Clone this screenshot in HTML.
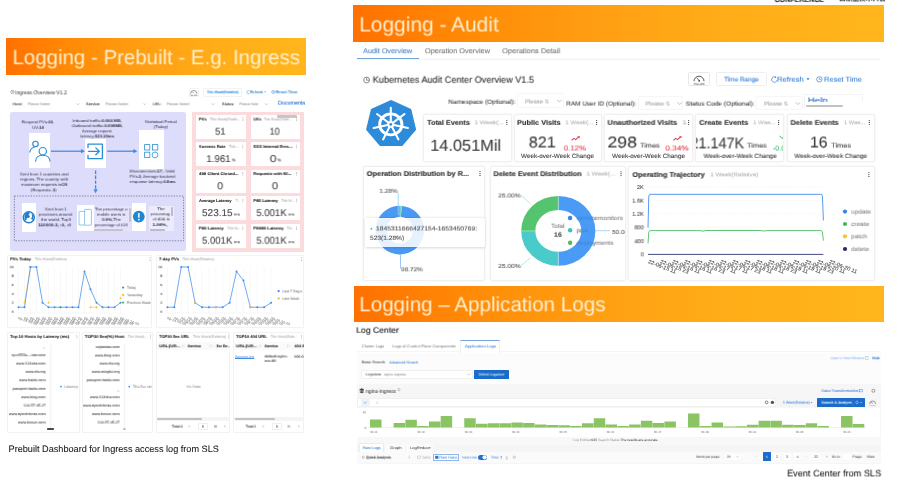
<!DOCTYPE html>
<html lang="en">
<head>
<meta charset="utf-8">
<title>Logging dashboards</title>
<style>
html,body{margin:0;padding:0;background:#fff}
#root{text-rendering:geometricPrecision;position:relative;width:904px;height:482px;overflow:hidden;background:#fff;font-family:"Liberation Sans","Noto Sans CJK SC",sans-serif;color:#333}
.t{position:absolute;white-space:nowrap;line-height:1.2;transform-origin:0 0;-webkit-text-stroke:0.1px currentColor}
.b{position:absolute;box-sizing:border-box}
.bn{font-weight:400;-webkit-text-stroke:0 transparent}
.lg .t{-webkit-text-stroke:0.03px currentColor}
svg{position:absolute;left:0;top:0;overflow:visible}
</style>
</head>
<body>
<div id="root">
<!-- s_base -->
<div class="t" style="left:774px;top:-5px;font-size:7.3px;color:#222;font-weight:700;transform:translate(0.51px,0.9px) perspective(999px) translateZ(.01px) scaleX(0.9699)">CONFERENCE</div>
<div class="t" style="left:839px;top:-5px;font-size:6.7px;color:#222;font-weight:700;transform:translate(0px,0.6px) perspective(999px) translateZ(.01px)">云原生技术大会</div>
<div class="b" style="left:6.2px;top:38.4px;width:300.2px;height:37.1px;background:linear-gradient(90deg,#ff7000 0%,#ff8906 20%,#ff9e12 45%,#ffad18 70%,#ffb61c 100%)"></div>
<div class="t bn" style="left:12px;top:46px;font-size:20.6px;color:#ffefcf;transform:translate(0.52px,0.21px) perspective(999px) translateZ(.01px) scaleX(0.9924)">Logging - Prebuilt - E.g. Ingress</div>
<div class="b" style="left:353.4px;top:5px;width:530.2px;height:36.8px;background:linear-gradient(90deg,#ff7000 0%,#ff8906 20%,#ff9e12 45%,#ffad18 70%,#ffb61c 100%)"></div>
<div class="t bn" style="left:359px;top:13px;font-size:20.8px;color:#ffefcf;transform:translate(0.29px,0.48px) perspective(999px) translateZ(.01px) scaleX(1.005)">Logging - Audit</div>
<div class="b" style="left:353.5px;top:285.5px;width:530.4px;height:36.6px;background:linear-gradient(90deg,#ff7000 0%,#ff8906 20%,#ff9e12 45%,#ffad18 70%,#ffb61c 100%)"></div>
<div class="t bn" style="left:359px;top:293px;font-size:20.6px;color:#ffefcf;transform:translate(0.31px,0.31px) perspective(999px) translateZ(.01px)">Logging – Application Logs</div>
<div class="t" style="left:8px;top:444px;font-size:9.3px;color:#111;transform:translate(0.55px,0px) scaleX(0.983);-webkit-text-stroke:0.05px #111">Prebuilt Dashboard for Ingress access log from SLS</div>
<div class="t" style="left:787px;top:468px;font-size:9.3px;color:#111;transform:translate(0.15px,0.4px) perspective(999px) translateZ(.01px) scaleX(0.9837);-webkit-text-stroke:0.05px #111">Event Center from SLS</div>
<!-- s_left -->
<div class="t" style="left:15px;top:90px;font-size:5.6px;transform:translate(0.33px,0.36px) perspective(999px) translateZ(.01px) scaleX(0.9183);-webkit-text-stroke:0 transparent">Ingress Overview V1.2</div>
<div class="b" style="left:188.6px;top:87.5px;width:10.1px;height:9.3px;background:#fff;border:0.5px solid #f2f2f2;border-radius:1px"></div>
<div class="t" style="left:190px;top:95px;font-size:1.6px;color:#777;transform:translate(0.13px,0.86px) perspective(999px) translateZ(.01px)">Time Shift</div>
<div class="b" style="left:203.2px;top:87.6px;width:38.4px;height:9px;background:#fff;border:0.5px solid #f0f2f5;border-radius:1px"></div>
<div class="t" style="left:206px;top:90px;font-size:3.6px;color:#2b7fd6;transform:translate(0.52px,0.26px) perspective(999px) translateZ(.01px) scaleX(0.9925)">This Week(Relative)</div>
<div class="t" style="left:249px;top:90px;font-size:3.8px;color:#2b7fd6;transform:translate(1px,0.33px) perspective(999px) translateZ(.01px) scaleX(0.9649)">Refresh</div>
<div class="t" style="left:275px;top:90px;font-size:3.8px;color:#2b7fd6;transform:translate(0.44px,0.33px) perspective(999px) translateZ(.01px) scaleX(1.1635)">Reset Time</div>
<div class="t" style="left:12px;top:102px;font-size:3.7px;color:#444;transform:translate(0.66px,0.3px) perspective(999px) translateZ(.01px) scaleX(1.1258)">Host:</div>
<div class="t" style="left:27px;top:102px;font-size:3.5px;color:#aaa;transform:translate(0.7px,0.22px) perspective(999px) translateZ(.01px) scaleX(1.0432)">Please Select</div>
<div class="t" style="left:86px;top:102px;font-size:3.7px;color:#444;transform:translate(0.12px,0.3px) perspective(999px) translateZ(.01px) scaleX(1.0653)">Service:</div>
<div class="t" style="left:105px;top:102px;font-size:3.5px;color:#aaa;transform:translate(0.5px,0.22px) perspective(999px) translateZ(.01px) scaleX(1.0527)">Please Select</div>
<div class="t" style="left:152px;top:102px;font-size:3.7px;color:#444;transform:translate(0.71px,0.3px) perspective(999px) translateZ(.01px) scaleX(1.0248)">URL:</div>
<div class="t" style="left:166px;top:102px;font-size:3.5px;color:#aaa;transform:translate(0.7px,0.22px) perspective(999px) translateZ(.01px) scaleX(1.0574)">Please Select</div>
<div class="t" style="left:222px;top:102px;font-size:3.7px;color:#444;transform:translate(0.02px,0.3px) perspective(999px) translateZ(.01px) scaleX(1.0716)">Status:</div>
<div class="t" style="left:239px;top:102px;font-size:3.5px;color:#aaa;transform:translate(0.21px,0.22px) perspective(999px) translateZ(.01px) scaleX(1.0144)">Please Sele</div>
<div class="t" style="left:277px;top:100px;font-size:5.5px;color:#2a74d2;transform:translate(0.86px,0.62px) perspective(999px) translateZ(.01px) scaleX(0.972)">Documenta</div>
<div class="b" style="left:10px;top:112.3px;width:176px;height:138.5px;background:#dedcfb;border-radius:2px"></div>
<div class="b" style="left:29px;top:133.3px;width:21.2px;height:34.9px;background:#fff"></div>
<div class="b" style="left:84.8px;top:138.8px;width:21.6px;height:29.6px;background:#fff"></div>
<div class="b" style="left:138.5px;top:130.2px;width:25.5px;height:38.8px;background:#fff"></div>
<div class="t" style="left:21px;top:120px;font-size:3.9px;color:#3a3a4c;transform:translate(0.85px,0.27px) perspective(999px) translateZ(.01px) scaleX(1.1015);-webkit-text-stroke:0.04px currentColor">Request PVs:<b>40</b>,</div>
<div class="t" style="left:31px;top:125px;font-size:3.9px;color:#3a3a4c;transform:translate(0.96px,0.77px) perspective(999px) translateZ(.01px) scaleX(1.1335);-webkit-text-stroke:0.04px currentColor">UV:<b>10</b></div>
<div class="t" style="left:72px;top:118px;font-size:3.9px;color:#3a3a4c;transform:translate(0.7px,0.96px) perspective(999px) translateZ(.01px) scaleX(1.123);-webkit-text-stroke:0.04px currentColor">Inbound traffic:<b>0.004 MB</b>,</div>
<div class="t" style="left:71px;top:124px;font-size:3.9px;color:#3a3a4c;transform:translate(0.69px,0.06px) perspective(999px) translateZ(.01px) scaleX(1.1255);-webkit-text-stroke:0.04px currentColor">Outbound traffic:<b>0.008MB</b>,</div>
<div class="t" style="left:82px;top:129px;font-size:3.9px;color:#3a3a4c;transform:translate(0.09px,0.37px) perspective(999px) translateZ(.01px) scaleX(1.0417);-webkit-text-stroke:0.04px currentColor">Average request</div>
<div class="t" style="left:80px;top:134px;font-size:3.9px;color:#3a3a4c;transform:translate(0.31px,0.47px) perspective(999px) translateZ(.01px) scaleX(1.0921);-webkit-text-stroke:0.04px currentColor">latency:<b>523.15ms</b></div>
<div class="t" style="left:144px;top:120px;font-size:3.9px;color:#3a3a4c;transform:translate(0.91px,0.06px) perspective(999px) translateZ(.01px) scaleX(1.1007);-webkit-text-stroke:0.04px currentColor">Statistical Period</div>
<div class="t" style="left:153px;top:125px;font-size:3.9px;color:#3a3a4c;transform:translate(0.84px,0.06px) perspective(999px) translateZ(.01px) scaleX(1.0941);-webkit-text-stroke:0.04px currentColor">(Today)</div>
<div class="t" style="left:20px;top:172px;font-size:3.9px;color:#3a3a4c;transform:translate(0.01px,0.47px) perspective(999px) translateZ(.01px) scaleX(1.0898);-webkit-text-stroke:0.04px currentColor">Sent from 1 countries and</div>
<div class="t" style="left:20px;top:177px;font-size:3.9px;color:#3a3a4c;transform:translate(0.21px,0.56px) perspective(999px) translateZ(.01px) scaleX(1.1049);-webkit-text-stroke:0.04px currentColor">regions. The country with</div>
<div class="t" style="left:21px;top:182px;font-size:3.9px;color:#3a3a4c;transform:translate(0.22px,0.77px) perspective(999px) translateZ(.01px) scaleX(1.0893);-webkit-text-stroke:0.04px currentColor">maximum requests is<b>CN</b></div>
<div class="t" style="left:30px;top:188px;font-size:3.9px;color:#3a3a4c;transform:translate(0.83px,0.37px) perspective(999px) translateZ(.01px) scaleX(1.0995);-webkit-text-stroke:0.04px currentColor">(Requests:  <b>2</b>)</div>
<div class="t" style="left:129px;top:169px;font-size:3.9px;color:#3a3a4c;transform:translate(0.65px,0.47px) perspective(999px) translateZ(.01px) scaleX(1.1061);-webkit-text-stroke:0.04px currentColor">Microservices:<b>17</b>,. Valid</div>
<div class="t" style="left:129px;top:174px;font-size:3.9px;color:#3a3a4c;transform:translate(0.66px,0.77px) perspective(999px) translateZ(.01px) scaleX(1.072);-webkit-text-stroke:0.04px currentColor">PVs:<b>2</b>, Average backend</div>
<div class="t" style="left:129px;top:179px;font-size:3.9px;color:#3a3a4c;transform:translate(0.72px,0.97px) perspective(999px) translateZ(.01px) scaleX(1.0945);-webkit-text-stroke:0.04px currentColor">response latency:<b>0.8ms</b></div>
<div class="b" style="left:21.8px;top:203px;width:14.2px;height:29.2px;background:#fff"></div>
<div class="t" style="left:44px;top:207px;font-size:3.9px;color:#3a3a4c;transform:translate(0.91px,0.47px) perspective(999px) translateZ(.01px) scaleX(1.0863);-webkit-text-stroke:0.04px currentColor">Sent from 1</div>
<div class="t" style="left:38px;top:212px;font-size:3.9px;color:#3a3a4c;transform:translate(0.92px,0.67px) perspective(999px) translateZ(.01px) scaleX(1.1116);-webkit-text-stroke:0.04px currentColor">provinces around</div>
<div class="t" style="left:41px;top:217px;font-size:3.9px;color:#3a3a4c;transform:translate(0.13px,0.87px) perspective(999px) translateZ(.01px) scaleX(1.132);-webkit-text-stroke:0.04px currentColor">the world. Top3</div>
<div class="t" style="left:38px;top:223px;font-size:3.9px;color:#3a3a4c;transform:translate(0.31px,0.27px) perspective(999px) translateZ(.01px) scaleX(1.1878);-webkit-text-stroke:0.04px currentColor"><b>110000:2,  :0,  :0</b></div>
<div class="b" style="left:76.5px;top:205px;width:17.1px;height:25.6px;background:#fff"></div>
<div class="b" style="left:94px;top:205.6px;width:37.4px;height:25.4px;background:#e4e2fc"></div>
<div class="b" style="left:129.4px;top:208.2px;width:1.4px;height:13.8px;background:#c4c3cc;border-radius:0.7px"></div>
<div class="b" style="left:94.2px;top:229.4px;width:28.8px;height:1.4px;background:#c4c3cc;border-radius:0.7px"></div>
<div class="b" style="left:131.9px;top:203px;width:14.1px;height:27.6px;background:#fff"></div>
<div class="b" style="left:149.2px;top:205.6px;width:24.4px;height:25.4px;background:#ecebfd"></div>
<div class="b" style="left:171.2px;top:207px;width:1.4px;height:8.6px;background:#bdbcc6;border-radius:0.7px"></div>
<div class="b" style="left:150px;top:229.4px;width:15.4px;height:1.4px;background:#bdbcc6;border-radius:0.7px"></div>
<div class="b" style="left:191.5px;top:112.2px;width:112.3px;height:139.6px;background:#fbdbdd"></div>
<div class="b" style="left:196.3px;top:115px;width:49.8px;height:24px;background:#fff"></div>
<div class="t" style="left:198px;top:117px;font-size:3.9px;color:#262626;font-weight:700;transform:translate(0.83px,0.56px) perspective(999px) translateZ(.01px) scaleX(1.0358)">PVs</div>
<div class="t" style="left:209px;top:117px;font-size:3.4px;color:#b0b0b0;transform:translate(0.82px,0.39px) perspective(999px) translateZ(.01px) scaleX(1.0577)">This Week(Relati...</div>
<div class="t" style="left:215px;top:126px;font-size:9.9px;color:#484848;transform:translate(0.02px,0.66px) perspective(999px) translateZ(.01px) scaleX(0.9672)">51</div>
<div class="b" style="left:250.9px;top:115px;width:49px;height:24px;background:#fff"></div>
<div class="t" style="left:253px;top:117px;font-size:3.9px;color:#262626;font-weight:700;transform:translate(0.46px,0.56px) perspective(999px) translateZ(.01px)">UVs</div>
<div class="t" style="left:263px;top:117px;font-size:3.4px;color:#b0b0b0;transform:translate(0.83px,0.39px) perspective(999px) translateZ(.01px) scaleX(0.9692)">This Week(Relati...</div>
<div class="t" style="left:269px;top:126px;font-size:9.9px;color:#484848;transform:translate(0.5px,0.66px) perspective(999px) translateZ(.01px) scaleX(0.9219)">10</div>
<div class="b" style="left:196.3px;top:142.3px;width:49.8px;height:24px;background:#fff"></div>
<div class="t" style="left:198px;top:144px;font-size:3.9px;color:#262626;font-weight:700;transform:translate(0.98px,0.87px) perspective(999px) translateZ(.01px) scaleX(1.043)">Success Rate</div>
<div class="t" style="left:228px;top:144px;font-size:3.4px;color:#b0b0b0;transform:translate(0.92px,0.69px) perspective(999px) translateZ(.01px) scaleX(1.0189)">This ...</div>
<div class="t" style="left:206px;top:153px;font-size:9.9px;color:#484848;transform:translate(0.36px,0.97px) perspective(999px) translateZ(.01px) scaleX(0.9814)">1.961</div>
<div class="t" style="left:231px;top:158px;font-size:3.8px;color:#505050;transform:translate(0.86px,0.43px) perspective(999px) translateZ(.01px) scaleX(1.0618)">%</div>
<div class="b" style="left:250.9px;top:142.3px;width:49px;height:24px;background:#fff"></div>
<div class="t" style="left:253px;top:144px;font-size:3.9px;color:#262626;font-weight:700;transform:translate(0.57px,0.87px) perspective(999px) translateZ(.01px) scaleX(1.1128)">5XX Internal Erro...</div>
<div class="t" style="left:269px;top:153px;font-size:9.9px;color:#484848;transform:translate(0.73px,0.97px) perspective(999px) translateZ(.01px) scaleX(1.2255)">0</div>
<div class="t" style="left:277px;top:158px;font-size:3.8px;color:#505050;transform:translate(0.45px,0.43px) perspective(999px) translateZ(.01px) scaleX(1.094)">%</div>
<div class="b" style="left:196.3px;top:169.5px;width:49.8px;height:23.7px;background:#fff"></div>
<div class="t" style="left:199px;top:172px;font-size:3.9px;color:#262626;font-weight:700;transform:translate(0.04px,0.06px) perspective(999px) translateZ(.01px) scaleX(1.1006)">499 Client Closed...</div>
<div class="t" style="left:217px;top:181px;font-size:9.9px;color:#484848;transform:translate(0.28px,0.16px) perspective(999px) translateZ(.01px) scaleX(1.0987)">0</div>
<div class="b" style="left:250.9px;top:169.5px;width:49px;height:23.7px;background:#fff"></div>
<div class="t" style="left:253px;top:172px;font-size:3.9px;color:#262626;font-weight:700;transform:translate(0.42px,0.06px) perspective(999px) translateZ(.01px) scaleX(1.0873)">Requests with 50...</div>
<div class="t" style="left:271px;top:181px;font-size:9.9px;color:#484848;transform:translate(0.76px,0.16px) perspective(999px) translateZ(.01px) scaleX(1.141)">0</div>
<div class="b" style="left:196.3px;top:196.4px;width:49.8px;height:24.1px;background:#fff"></div>
<div class="t" style="left:198px;top:198px;font-size:3.9px;color:#262626;font-weight:700;transform:translate(1px,0.97px) perspective(999px) translateZ(.01px) scaleX(1.0467)">Average Latency</div>
<div class="t" style="left:235px;top:198px;font-size:3.4px;color:#b0b0b0;transform:translate(0.52px,0.79px) perspective(999px) translateZ(.01px) scaleX(1.061)">T...</div>
<div class="t" style="left:201px;top:208px;font-size:9.9px;color:#484848;transform:translate(1px,0.06px) perspective(999px) translateZ(.01px) scaleX(1.0146)">523.15</div>
<div class="t" style="left:234px;top:212px;font-size:3.8px;color:#505050;transform:translate(0.02px,0.53px) perspective(999px) translateZ(.01px) scaleX(1.1121)">ms</div>
<div class="b" style="left:250.9px;top:196.4px;width:49px;height:24.1px;background:#fff"></div>
<div class="t" style="left:253px;top:198px;font-size:3.9px;color:#262626;font-weight:700;transform:translate(0.42px,0.97px) perspective(999px) translateZ(.01px) scaleX(1.0809)">P95 Latency</div>
<div class="t" style="left:281px;top:198px;font-size:3.4px;color:#b0b0b0;transform:translate(0.23px,0.79px) perspective(999px) translateZ(.01px) scaleX(0.9738)">This W...</div>
<div class="t" style="left:256px;top:208px;font-size:9.9px;color:#484848;transform:translate(0.32px,0.06px) perspective(999px) translateZ(.01px) scaleX(0.9686)">5.001K</div>
<div class="t" style="left:288px;top:212px;font-size:3.8px;color:#505050;transform:translate(0.52px,0.53px) perspective(999px) translateZ(.01px) scaleX(1.1121)">ms</div>
<div class="b" style="left:196.3px;top:224px;width:49.8px;height:24.1px;background:#fff"></div>
<div class="t" style="left:198px;top:226px;font-size:3.9px;color:#262626;font-weight:700;transform:translate(0.81px,0.56px) perspective(999px) translateZ(.01px) scaleX(1.0943)">P99 Latency</div>
<div class="t" style="left:227px;top:226px;font-size:3.4px;color:#b0b0b0;transform:translate(0.23px,0.39px) perspective(999px) translateZ(.01px) scaleX(0.9738)">This W...</div>
<div class="t" style="left:202px;top:235px;font-size:9.9px;color:#484848;transform:translate(0.02px,0.66px) perspective(999px) translateZ(.01px) scaleX(0.9686)">5.001K</div>
<div class="t" style="left:234px;top:240px;font-size:3.8px;color:#505050;transform:translate(0.02px,0.13px) perspective(999px) translateZ(.01px) scaleX(1.1121)">ms</div>
<div class="b" style="left:250.9px;top:224px;width:49px;height:24.1px;background:#fff"></div>
<div class="t" style="left:253px;top:226px;font-size:3.9px;color:#262626;font-weight:700;transform:translate(0.41px,0.56px) perspective(999px) translateZ(.01px) scaleX(1.1223)">P9999 Latency</div>
<div class="t" style="left:286px;top:226px;font-size:3.4px;color:#b0b0b0;transform:translate(0.73px,0.39px) perspective(999px) translateZ(.01px) scaleX(0.9763)">Thi...</div>
<div class="t" style="left:256px;top:235px;font-size:9.9px;color:#484848;transform:translate(0.32px,0.66px) perspective(999px) translateZ(.01px) scaleX(0.9686)">5.001K</div>
<div class="t" style="left:288px;top:240px;font-size:3.8px;color:#505050;transform:translate(0.52px,0.13px) perspective(999px) translateZ(.01px) scaleX(1.1121)">ms</div>
<div class="b" style="left:277.2px;top:115.2px;width:19.8px;height:2.7px;background:#c6c6c6;border-radius:1.3px"></div>
<div class="b" style="left:7.4px;top:255px;width:145px;height:72.6px;background:#fff;border:0.5px solid #f2f2f2;border-radius:1px"></div>
<div class="t" style="left:10px;top:257px;font-size:3.9px;color:#262626;font-weight:700;transform:translate(0.22px,0.37px) perspective(999px) translateZ(.01px) scaleX(1.0584)">PVs Today</div>
<div class="t" style="left:34px;top:257px;font-size:3.4px;color:#b4b4b4;transform:translate(0.72px,0.19px) perspective(999px) translateZ(.01px) scaleX(1.0575)">This Week(Relative)</div>
<div class="t" style="left:11px;top:310px;font-size:3.3px;color:#555;transform:translate(0.78px,0.85px) perspective(999px) translateZ(.01px) scaleX(1.1)">0</div>
<div class="t" style="left:11px;top:301px;font-size:3.3px;color:#555;transform:translate(0.78px,0.91px) perspective(999px) translateZ(.01px) scaleX(1.1)">2</div>
<div class="t" style="left:11px;top:292px;font-size:3.3px;color:#555;transform:translate(0.78px,0.97px) perspective(999px) translateZ(.01px) scaleX(1.1)">4</div>
<div class="t" style="left:11px;top:284px;font-size:3.3px;color:#555;transform:translate(0.78px,0.03px) perspective(999px) translateZ(.01px) scaleX(1.1)">6</div>
<div class="t" style="left:11px;top:275px;font-size:3.3px;color:#555;transform:translate(0.78px,0.09px) perspective(999px) translateZ(.01px) scaleX(1.1)">8</div>
<div class="t" style="left:9px;top:266px;font-size:3.3px;color:#555;transform:translate(0.76px,0.15px) perspective(999px) translateZ(.01px) scaleX(1.1)">10</div>
<div class="t" style="left:127px;top:285px;font-size:3.4px;color:#8a8a8a;transform:translate(0.02px,0.79px) perspective(999px) translateZ(.01px)">Today</div>
<div class="t" style="left:127px;top:293px;font-size:3.4px;color:#8a8a8a;transform:translate(0.02px,0.19px) perspective(999px) translateZ(.01px) scaleX(1.0526)">Yesterday</div>
<div class="t" style="left:126px;top:300px;font-size:3.4px;color:#8a8a8a;transform:translate(0.81px,0.79px) perspective(999px) translateZ(.01px) scaleX(1.0387)">Previous Week</div>
<div class="t" style="left:17.9px;top:315.7px;font-size:3.4px;line-height:4px;color:#6e6e6e;-webkit-text-stroke:0 transparent;transform-origin:0 50%;transform:rotate(19deg) scaleX(1.12)">06-14 00:00</div>
<div class="t" style="left:23.9px;top:315.7px;font-size:3.4px;line-height:4px;color:#6e6e6e;-webkit-text-stroke:0 transparent;transform-origin:0 50%;transform:rotate(19deg) scaleX(1.12)">06-14 08:00</div>
<div class="t" style="left:29.9px;top:315.7px;font-size:3.4px;line-height:4px;color:#6e6e6e;-webkit-text-stroke:0 transparent;transform-origin:0 50%;transform:rotate(19deg) scaleX(1.12)">06-14 16:00</div>
<div class="t" style="left:35.9px;top:315.7px;font-size:3.4px;line-height:4px;color:#6e6e6e;-webkit-text-stroke:0 transparent;transform-origin:0 50%;transform:rotate(19deg) scaleX(1.12)">06-15 00:00</div>
<div class="t" style="left:41.9px;top:315.7px;font-size:3.4px;line-height:4px;color:#6e6e6e;-webkit-text-stroke:0 transparent;transform-origin:0 50%;transform:rotate(19deg) scaleX(1.12)">06-15 08:00</div>
<div class="t" style="left:47.9px;top:315.7px;font-size:3.4px;line-height:4px;color:#6e6e6e;-webkit-text-stroke:0 transparent;transform-origin:0 50%;transform:rotate(19deg) scaleX(1.12)">06-15 16:00</div>
<div class="t" style="left:53.9px;top:315.7px;font-size:3.4px;line-height:4px;color:#6e6e6e;-webkit-text-stroke:0 transparent;transform-origin:0 50%;transform:rotate(19deg) scaleX(1.12)">06-16 00:00</div>
<div class="t" style="left:59.9px;top:315.7px;font-size:3.4px;line-height:4px;color:#6e6e6e;-webkit-text-stroke:0 transparent;transform-origin:0 50%;transform:rotate(19deg) scaleX(1.12)">06-16 08:00</div>
<div class="t" style="left:65.9px;top:315.7px;font-size:3.4px;line-height:4px;color:#6e6e6e;-webkit-text-stroke:0 transparent;transform-origin:0 50%;transform:rotate(19deg) scaleX(1.12)">06-16 16:00</div>
<div class="t" style="left:71.9px;top:315.7px;font-size:3.4px;line-height:4px;color:#6e6e6e;-webkit-text-stroke:0 transparent;transform-origin:0 50%;transform:rotate(19deg) scaleX(1.12)">06-17 00:00</div>
<div class="t" style="left:77.9px;top:315.7px;font-size:3.4px;line-height:4px;color:#6e6e6e;-webkit-text-stroke:0 transparent;transform-origin:0 50%;transform:rotate(19deg) scaleX(1.12)">06-17 08:00</div>
<div class="t" style="left:83.9px;top:315.7px;font-size:3.4px;line-height:4px;color:#6e6e6e;-webkit-text-stroke:0 transparent;transform-origin:0 50%;transform:rotate(19deg) scaleX(1.12)">06-17 16:00</div>
<div class="t" style="left:89.9px;top:315.7px;font-size:3.4px;line-height:4px;color:#6e6e6e;-webkit-text-stroke:0 transparent;transform-origin:0 50%;transform:rotate(19deg) scaleX(1.12)">06-18 00:00</div>
<div class="t" style="left:95.9px;top:315.7px;font-size:3.4px;line-height:4px;color:#6e6e6e;-webkit-text-stroke:0 transparent;transform-origin:0 50%;transform:rotate(19deg) scaleX(1.12)">06-18 08:00</div>
<div class="t" style="left:101.9px;top:315.7px;font-size:3.4px;line-height:4px;color:#6e6e6e;-webkit-text-stroke:0 transparent;transform-origin:0 50%;transform:rotate(19deg) scaleX(1.12)">06-18 16:00</div>
<div class="t" style="left:107.9px;top:315.7px;font-size:3.4px;line-height:4px;color:#6e6e6e;-webkit-text-stroke:0 transparent;transform-origin:0 50%;transform:rotate(19deg) scaleX(1.12)">06-19 00:00</div>
<div class="t" style="left:113.9px;top:315.7px;font-size:3.4px;line-height:4px;color:#6e6e6e;-webkit-text-stroke:0 transparent;transform-origin:0 50%;transform:rotate(19deg) scaleX(1.12)">06-19 08:00</div>
<div class="t" style="left:119.9px;top:315.7px;font-size:3.4px;line-height:4px;color:#6e6e6e;-webkit-text-stroke:0 transparent;transform-origin:0 50%;transform:rotate(19deg) scaleX(1.12)">06-19 16:00</div>
<div class="b" style="left:156.4px;top:255px;width:147.5px;height:72.6px;background:#fff;border:0.5px solid #f2f2f2;border-radius:1px"></div>
<div class="t" style="left:159px;top:257px;font-size:3.9px;color:#262626;font-weight:700;transform:translate(0.12px,0.37px) perspective(999px) translateZ(.01px) scaleX(1.0755)">7-day PVs</div>
<div class="t" style="left:182px;top:257px;font-size:3.4px;color:#b4b4b4;transform:translate(0.42px,0.19px) perspective(999px) translateZ(.01px) scaleX(1.0377)">This Week(Relative)</div>
<div class="t" style="left:160px;top:310px;font-size:3.3px;color:#555;transform:translate(0.38px,0.85px) perspective(999px) translateZ(.01px) scaleX(1.1)">0</div>
<div class="t" style="left:160px;top:301px;font-size:3.3px;color:#555;transform:translate(0.38px,0.91px) perspective(999px) translateZ(.01px) scaleX(1.1)">2</div>
<div class="t" style="left:160px;top:292px;font-size:3.3px;color:#555;transform:translate(0.38px,0.97px) perspective(999px) translateZ(.01px) scaleX(1.1)">4</div>
<div class="t" style="left:160px;top:284px;font-size:3.3px;color:#555;transform:translate(0.38px,0.03px) perspective(999px) translateZ(.01px) scaleX(1.1)">6</div>
<div class="t" style="left:160px;top:275px;font-size:3.3px;color:#555;transform:translate(0.38px,0.09px) perspective(999px) translateZ(.01px) scaleX(1.1)">8</div>
<div class="t" style="left:158px;top:266px;font-size:3.3px;color:#555;transform:translate(0.36px,0.15px) perspective(999px) translateZ(.01px) scaleX(1.1)">10</div>
<div class="t" style="left:282px;top:289px;font-size:3.4px;color:#8a8a8a;transform:translate(0.3px,0.39px) perspective(999px) translateZ(.01px) scaleX(1.0825)">Last 7 Days</div>
<div class="t" style="left:282px;top:296px;font-size:3.4px;color:#8a8a8a;transform:translate(0.3px,0.69px) perspective(999px) translateZ(.01px) scaleX(1.0682)">Last Week</div>
<div class="t" style="left:166.8px;top:315.7px;font-size:3.4px;line-height:4px;color:#6e6e6e;-webkit-text-stroke:0 transparent;transform-origin:0 50%;transform:rotate(19deg) scaleX(1.12)">06-14 00:00</div>
<div class="t" style="left:173.71px;top:315.7px;font-size:3.4px;line-height:4px;color:#6e6e6e;-webkit-text-stroke:0 transparent;transform-origin:0 50%;transform:rotate(19deg) scaleX(1.12)">06-14 08:00</div>
<div class="t" style="left:180.63px;top:315.7px;font-size:3.4px;line-height:4px;color:#6e6e6e;-webkit-text-stroke:0 transparent;transform-origin:0 50%;transform:rotate(19deg) scaleX(1.12)">06-14 16:00</div>
<div class="t" style="left:187.54px;top:315.7px;font-size:3.4px;line-height:4px;color:#6e6e6e;-webkit-text-stroke:0 transparent;transform-origin:0 50%;transform:rotate(19deg) scaleX(1.12)">06-15 00:00</div>
<div class="t" style="left:194.45px;top:315.7px;font-size:3.4px;line-height:4px;color:#6e6e6e;-webkit-text-stroke:0 transparent;transform-origin:0 50%;transform:rotate(19deg) scaleX(1.12)">06-15 08:00</div>
<div class="t" style="left:201.37px;top:315.7px;font-size:3.4px;line-height:4px;color:#6e6e6e;-webkit-text-stroke:0 transparent;transform-origin:0 50%;transform:rotate(19deg) scaleX(1.12)">06-15 16:00</div>
<div class="t" style="left:208.28px;top:315.7px;font-size:3.4px;line-height:4px;color:#6e6e6e;-webkit-text-stroke:0 transparent;transform-origin:0 50%;transform:rotate(19deg) scaleX(1.12)">06-16 00:00</div>
<div class="t" style="left:215.19px;top:315.7px;font-size:3.4px;line-height:4px;color:#6e6e6e;-webkit-text-stroke:0 transparent;transform-origin:0 50%;transform:rotate(19deg) scaleX(1.12)">06-16 08:00</div>
<div class="t" style="left:222.1px;top:315.7px;font-size:3.4px;line-height:4px;color:#6e6e6e;-webkit-text-stroke:0 transparent;transform-origin:0 50%;transform:rotate(19deg) scaleX(1.12)">06-16 16:00</div>
<div class="t" style="left:229.02px;top:315.7px;font-size:3.4px;line-height:4px;color:#6e6e6e;-webkit-text-stroke:0 transparent;transform-origin:0 50%;transform:rotate(19deg) scaleX(1.12)">06-17 00:00</div>
<div class="t" style="left:235.93px;top:315.7px;font-size:3.4px;line-height:4px;color:#6e6e6e;-webkit-text-stroke:0 transparent;transform-origin:0 50%;transform:rotate(19deg) scaleX(1.12)">06-17 08:00</div>
<div class="t" style="left:242.84px;top:315.7px;font-size:3.4px;line-height:4px;color:#6e6e6e;-webkit-text-stroke:0 transparent;transform-origin:0 50%;transform:rotate(19deg) scaleX(1.12)">06-17 16:00</div>
<div class="t" style="left:249.76px;top:315.7px;font-size:3.4px;line-height:4px;color:#6e6e6e;-webkit-text-stroke:0 transparent;transform-origin:0 50%;transform:rotate(19deg) scaleX(1.12)">06-18 00:00</div>
<div class="t" style="left:256.67px;top:315.7px;font-size:3.4px;line-height:4px;color:#6e6e6e;-webkit-text-stroke:0 transparent;transform-origin:0 50%;transform:rotate(19deg) scaleX(1.12)">06-18 08:00</div>
<div class="t" style="left:263.58px;top:315.7px;font-size:3.4px;line-height:4px;color:#6e6e6e;-webkit-text-stroke:0 transparent;transform-origin:0 50%;transform:rotate(19deg) scaleX(1.12)">06-18 16:00</div>
<div class="t" style="left:270.5px;top:315.7px;font-size:3.4px;line-height:4px;color:#6e6e6e;-webkit-text-stroke:0 transparent;transform-origin:0 50%;transform:rotate(19deg) scaleX(1.12)">06-19 00:00</div>
<div class="b" style="left:7.3px;top:332.3px;width:73.1px;height:100.7px;background:#fff;border:0.5px solid #f2f2f2;border-radius:1px"></div>
<div class="t" style="left:10px;top:334px;font-size:3.9px;color:#262626;font-weight:700;transform:translate(0.15px,0.87px) perspective(999px) translateZ(.01px) scaleX(1.0761)">Top 10 Hosts by Latency (ms)</div>
<div class="b" style="left:82.2px;top:332.3px;width:71.1px;height:100.7px;background:#fff;border:0.5px solid #f2f2f2;border-radius:1px"></div>
<div class="t" style="left:84px;top:334px;font-size:3.9px;color:#262626;font-weight:700;transform:translate(0.75px,0.87px) perspective(999px) translateZ(.01px) scaleX(1.1096)">TOP10 5xx(%) Host</div>
<div class="t" style="left:127px;top:334px;font-size:3.4px;color:#b4b4b4;transform:translate(0.73px,0.69px) perspective(999px) translateZ(.01px) scaleX(0.9603)">This Week(...</div>
<div class="b" style="left:156.4px;top:332.3px;width:74px;height:100.7px;background:#fff;border:0.5px solid #f2f2f2;border-radius:1px"></div>
<div class="t" style="left:159px;top:334px;font-size:3.9px;color:#262626;font-weight:700;transform:translate(0.25px,0.87px) perspective(999px) translateZ(.01px) scaleX(1.0378)">TOP30 5xx URL</div>
<div class="t" style="left:192px;top:334px;font-size:3.4px;color:#b4b4b4;transform:translate(0.92px,0.69px) perspective(999px) translateZ(.01px) scaleX(1.0906)">This Week(Relative)</div>
<div class="b" style="left:233.3px;top:332.3px;width:70.6px;height:100.7px;background:#fff;border:0.5px solid #f2f2f2;border-radius:1px"></div>
<div class="t" style="left:236px;top:334px;font-size:3.9px;color:#262626;font-weight:700;transform:translate(0.15px,0.87px) perspective(999px) translateZ(.01px) scaleX(1.0586)">TOP10 404 URL</div>
<div class="t" style="left:270px;top:334px;font-size:3.4px;color:#b4b4b4;transform:translate(0.42px,0.69px) perspective(999px) translateZ(.01px) scaleX(0.9823)">This Week(Rela...</div>
<div class="t" style="left:43px;top:345px;font-size:3.5px;color:#5a5a5a;transform:translate(0.08px,0.62px) perspective(999px) translateZ(.01px) scaleX(1.08)">--</div>
<div class="t" style="left:11px;top:353px;font-size:3.5px;color:#5a5a5a;transform:translate(0.56px,0.23px) perspective(999px) translateZ(.01px) scaleX(1.08)">np.c555a....iner.com</div>
<div class="t" style="left:16px;top:361px;font-size:3.5px;color:#5a5a5a;transform:translate(0.19px,0.62px) perspective(999px) translateZ(.01px) scaleX(1.08)">www.123sita.com</div>
<div class="t" style="left:25px;top:369px;font-size:3.5px;color:#5a5a5a;transform:translate(0.64px,0.83px) perspective(999px) translateZ(.01px) scaleX(1.08)">www.rfa.org</div>
<div class="t" style="left:19px;top:378px;font-size:3.5px;color:#5a5a5a;transform:translate(0.13px,0.23px) perspective(999px) translateZ(.01px) scaleX(1.08)">www.baidu.com</div>
<div class="t" style="left:12px;top:386px;font-size:3.5px;color:#5a5a5a;transform:translate(0.61px,0.83px) perspective(999px) translateZ(.01px) scaleX(1.08)">passport.baidu.com</div>
<div class="t" style="left:21px;top:395px;font-size:3.5px;color:#5a5a5a;transform:translate(0.23px,0.23px) perspective(999px) translateZ(.01px) scaleX(1.08)">www.bing.com</div>
<div class="t" style="left:23px;top:403px;font-size:3.5px;color:#5a5a5a;transform:translate(0.53px,0.62px) perspective(999px) translateZ(.01px) scaleX(1.08)">123.57.45.27</div>
<div class="t" style="left:9px;top:412px;font-size:3.5px;color:#5a5a5a;transform:translate(0.05px,0.12px) perspective(999px) translateZ(.01px) scaleX(1.08)">www.epochtimes.com</div>
<div class="t" style="left:18px;top:420px;font-size:3.5px;color:#5a5a5a;transform:translate(0.08px,0.53px) perspective(999px) translateZ(.01px) scaleX(1.08)">www.boxun.com</div>
<div class="t" style="left:64px;top:384px;font-size:3.4px;color:#999;transform:translate(0.28px,0.79px) perspective(999px) translateZ(.01px) scaleX(1.1529)">Latency</div>
<div class="b" style="left:46.8px;top:427.9px;width:7.4px;height:1.8px;background:#4a4a4a;border-radius:0.8px"></div>
<div class="t" style="left:95px;top:345px;font-size:3.5px;color:#5a5a5a;transform:translate(0.65px,0.03px) perspective(999px) translateZ(.01px) scaleX(1.08)">xujiatulas.com</div>
<div class="t" style="left:95px;top:353px;font-size:3.5px;color:#5a5a5a;transform:translate(0.02px,0.53px) perspective(999px) translateZ(.01px) scaleX(1.08)">www.tbng.com</div>
<div class="t" style="left:99px;top:361px;font-size:3.5px;color:#5a5a5a;transform:translate(0.64px,0.62px) perspective(999px) translateZ(.01px) scaleX(1.08)">www.rfa.org</div>
<div class="t" style="left:91px;top:369px;font-size:3.5px;color:#5a5a5a;transform:translate(0.87px,0.83px) perspective(999px) translateZ(.01px) scaleX(1.08)">www.mingfui.org</div>
<div class="t" style="left:86px;top:378px;font-size:3.5px;color:#5a5a5a;transform:translate(0.61px,0.23px) perspective(999px) translateZ(.01px) scaleX(1.08)">passport.baidu.com</div>
<div class="t" style="left:117px;top:388px;font-size:3.5px;color:#5a5a5a;transform:translate(0.08px,0.62px) perspective(999px) translateZ(.01px) scaleX(1.08)">--</div>
<div class="t" style="left:89px;top:395px;font-size:3.5px;color:#5a5a5a;transform:translate(0.98px,0.23px) perspective(999px) translateZ(.01px) scaleX(1.08)">www.123cha.com</div>
<div class="t" style="left:83px;top:403px;font-size:3.5px;color:#5a5a5a;transform:translate(0.05px,0.62px) perspective(999px) translateZ(.01px) scaleX(1.08)">www.epochtimes.com</div>
<div class="t" style="left:92px;top:412px;font-size:3.5px;color:#5a5a5a;transform:translate(0.08px,0.12px) perspective(999px) translateZ(.01px) scaleX(1.08)">www.boxun.com</div>
<div class="t" style="left:97px;top:420px;font-size:3.5px;color:#5a5a5a;transform:translate(0.53px,0.53px) perspective(999px) translateZ(.01px) scaleX(1.08)">123.57.45.27</div>
<div class="t" style="left:123px;top:427px;font-size:2.8px;color:#555;transform:translate(0.52px,0.98px) perspective(999px) translateZ(.01px)">0</div>
<div class="t" style="left:132px;top:384px;font-size:3.4px;color:#999;transform:translate(0.92px,0.79px) perspective(999px) translateZ(.01px) scaleX(1.0884)">The 5xx rat</div>
<div class="b" style="left:156.7px;top:341.6px;width:73.4px;height:8.8px;background:#fafafa"></div>
<div class="t" style="left:159px;top:344px;font-size:3.6px;color:#2e2e2e;font-weight:700;transform:translate(0.03px,0.26px) perspective(999px) translateZ(.01px) scaleX(1.2673)">URL(UR...</div>
<div class="t" style="left:187px;top:344px;font-size:3.6px;color:#2e2e2e;font-weight:700;transform:translate(0.59px,0.26px) perspective(999px) translateZ(.01px) scaleX(1.041)">Service</div>
<div class="b" style="left:233.6px;top:341.6px;width:70px;height:8.8px;background:#fafafa"></div>
<div class="t" style="left:235px;top:344px;font-size:3.6px;color:#2e2e2e;font-weight:700;transform:translate(0.93px,0.26px) perspective(999px) translateZ(.01px) scaleX(1.2673)">URL(UR...</div>
<div class="t" style="left:264px;top:344px;font-size:3.6px;color:#2e2e2e;font-weight:700;transform:translate(0.59px,0.26px) perspective(999px) translateZ(.01px) scaleX(1.041)">Service</div>
<div class="t" style="left:216px;top:344px;font-size:3.6px;color:#2e2e2e;font-weight:700;transform:translate(0.7px,0.26px) perspective(999px) translateZ(.01px) scaleX(0.8735)">5xx Err...</div>
<div class="b" style="left:293px;top:342px;width:10.5px;height:8px;overflow:hidden"><div class="t" style="left:1px;top:2px;font-size:3.6px;color:#2e2e2e;font-weight:700;transform:translate(0.3px,0.26px) perspective(999px) translateZ(.01px) scaleX(1.15)">404 Err...</div></div>
<div class="t" style="left:186px;top:384px;font-size:3.4px;color:#a6a6a6;transform:translate(0.62px,0.79px) perspective(999px) translateZ(.01px) scaleX(1.12)">No Data</div>
<div class="t" style="left:235px;top:354px;font-size:3.5px;color:#3a86de;transform:translate(0px,0.93px) perspective(999px) translateZ(.01px) scaleX(1.0944);text-decoration:underline;text-decoration-thickness:0.25px;text-underline-offset:0.4px;-webkit-text-stroke:0 transparent">/favicon.ico</div>
<div class="t" style="left:264px;top:354px;font-size:3.4px;color:#444;transform:translate(0.54px,0.39px) perspective(999px) translateZ(.01px) scaleX(1.1473)">default-nginx-</div>
<div class="t" style="left:264px;top:358px;font-size:3.4px;color:#444;transform:translate(0.7px,0.89px) perspective(999px) translateZ(.01px) scaleX(1.12)">svc-80</div>
<div class="t" style="left:294px;top:354px;font-size:3.4px;color:#444;transform:translate(0.01px,0.69px) perspective(999px) translateZ(.01px) scaleX(1.1211)">100.0</div>
<div class="b" style="left:156.7px;top:417px;width:73.4px;height:3.6px;background:#f4f4f4"></div>
<div class="b" style="left:233.6px;top:417px;width:70px;height:3.6px;background:#f4f4f4"></div>
<div class="b" style="left:157.3px;top:418px;width:45px;height:1.7px;background:#c2c2c2;border-radius:0.8px"></div>
<div class="b" style="left:234.8px;top:418px;width:40.6px;height:1.7px;background:#c2c2c2;border-radius:0.8px"></div>
<div class="t" style="left:171px;top:424px;font-size:3.4px;color:#4a4a4a;transform:translate(0.72px,0.59px) perspective(999px) translateZ(.01px) scaleX(1.0909)">Total:0</div>
<div class="t" style="left:188px;top:425px;font-size:3.2px;color:#aaa;transform:translate(0.27px,0.42px) perspective(999px) translateZ(.01px)">&lt;</div>
<div class="b" style="left:197.9px;top:423px;width:10.1px;height:6.8px;background:#fff;border:0.4px solid #efefef;border-radius:0.6px"></div>
<div class="t" style="left:202px;top:425px;font-size:3.2px;font-weight:700;transform:translate(0.06px,0.52px) perspective(999px) translateZ(.01px)">1</div>
<div class="t" style="left:213px;top:425px;font-size:3.2px;color:#555;transform:translate(0.97px,0.52px) perspective(999px) translateZ(.01px)">/0</div>
<div class="t" style="left:223px;top:425px;font-size:3.2px;color:#aaa;transform:translate(0.97px,0.42px) perspective(999px) translateZ(.01px)">&gt;</div>
<div class="t" style="left:245px;top:424px;font-size:3.4px;color:#4a4a4a;transform:translate(0.72px,0.59px) perspective(999px) translateZ(.01px) scaleX(1.0435)">Total:1</div>
<div class="t" style="left:262px;top:425px;font-size:3.2px;color:#aaa;transform:translate(0.27px,0.42px) perspective(999px) translateZ(.01px)">&lt;</div>
<div class="b" style="left:272px;top:423px;width:10px;height:6.8px;background:#fff;border:0.4px solid #efefef;border-radius:0.6px"></div>
<div class="t" style="left:276px;top:425px;font-size:3.2px;font-weight:700;transform:translate(0.11px,0.52px) perspective(999px) translateZ(.01px)">1</div>
<div class="t" style="left:287px;top:425px;font-size:3.2px;color:#555;transform:translate(0.47px,0.52px) perspective(999px) translateZ(.01px)">/1</div>
<div class="t" style="left:297px;top:425px;font-size:3.2px;color:#aaa;transform:translate(0.77px,0.42px) perspective(999px) translateZ(.01px)">&gt;</div>
<div class="t" style="left:94px;top:207px;font-size:3.9px;color:#3a3a4c;transform:translate(0.91px,0.47px) perspective(999px) translateZ(.01px) scaleX(1.0653);-webkit-text-stroke:0.04px currentColor">The percentage o</div>
<div class="t" style="left:97px;top:212px;font-size:3.9px;color:#3a3a4c;transform:translate(0.02px,0.67px) perspective(999px) translateZ(.01px) scaleX(1.0933);-webkit-text-stroke:0.04px currentColor">mobile users is</div>
<div class="t" style="left:101px;top:217px;font-size:3.9px;color:#3a3a4c;transform:translate(0.82px,0.87px) perspective(999px) translateZ(.01px) scaleX(1.1426);-webkit-text-stroke:0.04px currentColor"><b>0.0%</b>,The</div>
<div class="t" style="left:94px;top:223px;font-size:3.9px;color:#3a3a4c;transform:translate(0.74px,0.27px) perspective(999px) translateZ(.01px) scaleX(1.0473);-webkit-text-stroke:0.04px currentColor">percentage of IOS</div>
<div class="t" style="left:157px;top:207px;font-size:3.9px;color:#3a3a4c;transform:translate(0.1px,0.17px) perspective(999px) translateZ(.01px) scaleX(1.1301);-webkit-text-stroke:0.04px currentColor">The</div>
<div class="t" style="left:150px;top:212px;font-size:3.9px;color:#3a3a4c;transform:translate(0.72px,0.27px) perspective(999px) translateZ(.01px) scaleX(1.1042);-webkit-text-stroke:0.04px currentColor">percentag</div>
<div class="t" style="left:152px;top:217px;font-size:3.9px;color:#3a3a4c;transform:translate(0.71px,0.37px) perspective(999px) translateZ(.01px) scaleX(1.1358);-webkit-text-stroke:0.04px currentColor">of 404 is</div>
<div class="t" style="left:152px;top:222px;font-size:3.9px;color:#3a3a4c;transform:translate(0.6px,0.97px) perspective(999px) translateZ(.01px) scaleX(1.2032);-webkit-text-stroke:0.04px currentColor"><b>1.96%,</b></div>
<svg width="904" height="482" viewBox="0 0 904 482"><circle cx="12.4" cy="92" r="1.7" fill="none" stroke="#666" stroke-width="0.5"/><path d="M12.4 90.9v1.2h1" fill="none" stroke="#666" stroke-width="0.4"/><path d="M190.6 93.6a3.1 3.1 0 1 1 6.2 0" fill="none" stroke="#555" stroke-width="0.6"/><path d="M193.7 93.4l-1.3-1.8" stroke="#555" stroke-width="0.5"/><path d="M249.4 91.2a1.5 1.5 0 1 0 0.3 1.6" fill="none" stroke="#2b7fd6" stroke-width="0.45"/><path d="M264.2 91.5h1.8l-0.9 1.1z" fill="#2b7fd6"/><circle cx="273.2" cy="92" r="1.5" fill="none" stroke="#2b7fd6" stroke-width="0.45"/><path d="M273.2 91.1v1h0.8" fill="none" stroke="#2b7fd6" stroke-width="0.4"/><path d="M76.6 103.4 l1.4 1.4 l1.4 -1.4" fill="none" stroke="#999" stroke-width="0.5"/><path d="M143.1 103.4 l1.4 1.4 l1.4 -1.4" fill="none" stroke="#999" stroke-width="0.5"/><path d="M211.6 103.4 l1.4 1.4 l1.4 -1.4" fill="none" stroke="#999" stroke-width="0.5"/><path d="M265.1 103.4 l1.4 1.4 l1.4 -1.4" fill="none" stroke="#999" stroke-width="0.5"/><g fill="none" stroke="#2b8fd3" stroke-width="1.15" stroke-linecap="round"><circle cx="35.5" cy="143.9" r="2.7"/><path d="M29.8 152.2c0.4 -2.6 2 -4.4 4.4 -5"/><circle cx="42.8" cy="151.2" r="3.7"/><path d="M35.6 161.2c0.2 -3.6 3 -6 7.2 -6s7 2.4 7.2 6"/></g><path d="M51 151.2H82" stroke="#3d8ae2" stroke-width="1.25"/><path d="M81 149.1l4 2.1l-4 2.1z" fill="#3d8ae2"/><path d="M107.2 151.2H134.4" stroke="#3d8ae2" stroke-width="1.25"/><path d="M133.4 149.1l4 2.1l-4 2.1z" fill="#3d8ae2"/><g fill="none" stroke="#2b8fd3" stroke-width="1.3" stroke-linejoin="round" stroke-linecap="round"><path d="M88 147.4v-3.2h14.4v14.4h-14.4v-3.2"/><path d="M88.4 151.3h10.6M95.8 147.9l3.5 3.4l-3.5 3.4"/></g><g fill="none" stroke="#2b8fd3" stroke-width="0.8"><rect x="144.6" y="144.6" width="5.2" height="5.4"/><rect x="152.4" y="144.6" width="5.4" height="5.4"/><rect x="144.6" y="152.2" width="5.2" height="5.2"/><circle cx="155" cy="154.9" r="2.9"/></g><path d="M95.6 170.6V189.6" stroke="#3d8ae2" stroke-width="1.3" stroke-dasharray="3.4 1.5"/><path d="M93.5 189.2h4.2l-2.1 4z" fill="#3d8ae2"/><rect x="14.4" y="196" width="169.2" height="44.8" fill="none" stroke="#66667c" stroke-width="0.75" stroke-dasharray="1.4 1.3"/><circle cx="28.8" cy="217.3" r="5.5" fill="#fff" stroke="#1f7fcf" stroke-width="1.5"/><path d="M24.6 215.6c0.6 -2 2.2 -3.4 4.2 -3.6l1 1.4l-1.4 1.4l1.6 1.4l-1 1.8l-2 -0.2l-0.6 2.2l-1 0.6c-0.8 -1.4 -1.2 -3.2 -0.8 -5z" fill="#1f7fcf"/><path d="M31.8 214l1.4 1c0.6 1.8 0.2 3.8 -1 5.2l-1 -1.6l0.8 -2z" fill="#1f7fcf"/><g fill="#fff" stroke="#3b9ad6" stroke-width="0.55"><rect x="79" y="211.4" width="6.6" height="13.6" rx="0.8"/><rect x="84.6" y="209.4" width="6.8" height="15.8" rx="0.8"/></g><circle cx="138.8" cy="216.6" r="5.9" fill="#1f87d2"/><rect x="138.1" y="213" width="1.5" height="4.8" rx="0.6" fill="#fff"/><circle cx="138.85" cy="219.7" r="0.85" fill="#fff"/><circle cx="242.9" cy="117.8" r="0.36" fill="#555"/><circle cx="242.9" cy="119.2" r="0.36" fill="#555"/><circle cx="242.9" cy="120.6" r="0.36" fill="#555"/><circle cx="296.7" cy="117.8" r="0.36" fill="#555"/><circle cx="296.7" cy="119.2" r="0.36" fill="#555"/><circle cx="296.7" cy="120.6" r="0.36" fill="#555"/><circle cx="242.9" cy="145.1" r="0.36" fill="#555"/><circle cx="242.9" cy="146.5" r="0.36" fill="#555"/><circle cx="242.9" cy="147.9" r="0.36" fill="#555"/><circle cx="296.7" cy="145.1" r="0.36" fill="#555"/><circle cx="296.7" cy="146.5" r="0.36" fill="#555"/><circle cx="296.7" cy="147.9" r="0.36" fill="#555"/><circle cx="242.9" cy="172.3" r="0.36" fill="#555"/><circle cx="242.9" cy="173.7" r="0.36" fill="#555"/><circle cx="242.9" cy="175.1" r="0.36" fill="#555"/><circle cx="296.7" cy="172.3" r="0.36" fill="#555"/><circle cx="296.7" cy="173.7" r="0.36" fill="#555"/><circle cx="296.7" cy="175.1" r="0.36" fill="#555"/><circle cx="242.9" cy="199.2" r="0.36" fill="#555"/><circle cx="242.9" cy="200.6" r="0.36" fill="#555"/><circle cx="242.9" cy="202" r="0.36" fill="#555"/><circle cx="296.7" cy="199.2" r="0.36" fill="#555"/><circle cx="296.7" cy="200.6" r="0.36" fill="#555"/><circle cx="296.7" cy="202" r="0.36" fill="#555"/><circle cx="242.9" cy="226.8" r="0.36" fill="#555"/><circle cx="242.9" cy="228.2" r="0.36" fill="#555"/><circle cx="242.9" cy="229.6" r="0.36" fill="#555"/><circle cx="296.7" cy="226.8" r="0.36" fill="#555"/><circle cx="296.7" cy="228.2" r="0.36" fill="#555"/><circle cx="296.7" cy="229.6" r="0.36" fill="#555"/><circle cx="150" cy="257.6" r="0.36" fill="#555"/><circle cx="150" cy="259" r="0.36" fill="#555"/><circle cx="150" cy="260.4" r="0.36" fill="#555"/><path d="M18.5 267V312.9M24.5 267V312.9M30.5 267V312.9M36.5 267V312.9M42.5 267V312.9M48.5 267V312.9M54.5 267V312.9M60.5 267V312.9M66.5 267V312.9M72.5 267V312.9M78.5 267V312.9M84.5 267V312.9M90.5 267V312.9M96.5 267V312.9M102.5 267V312.9M108.5 267V312.9M114.5 267V312.9M120.5 267V312.9" stroke="#f0f0f0" stroke-width="0.4" fill="none"/><path d="M17.5 313.1H124.5" stroke="#dcdcdc" stroke-width="0.4" stroke-dasharray="1 0.8"/><path d="M24.5 302.76 L30.5 267" fill="none" stroke="#f5c02c" stroke-width="0.6"/><path d="M90.5 307.23 L96.5 307.23" fill="none" stroke="#f5c02c" stroke-width="0.6"/><circle cx="30" cy="267" r="1.1" fill="#f5c02c"/><path d="M18.5 307.23 L24.5 307.23 L30.5 267 L36.5 267 L42.5 302.76 L48.5 307.23 L54.5 307.23 L60.5 307.23 L66.5 307.23 L72.5 307.23 L78.5 307.23 L84.5 271.47 L90.5 289.35 L96.5 302.76 L102.5 307.23 L108.5 307.23 L114.5 307.23 L120.5 302.76" fill="none" stroke="#3f8ef0" stroke-width="0.75" stroke-linejoin="round"/><circle cx="18.5" cy="307.23" r="1" fill="#3f8ef0"/><circle cx="24.5" cy="307.23" r="1" fill="#3f8ef0"/><circle cx="30.5" cy="267" r="1" fill="#3f8ef0"/><circle cx="36.5" cy="267" r="1" fill="#3f8ef0"/><circle cx="42.5" cy="302.76" r="1" fill="#3f8ef0"/><circle cx="48.5" cy="307.23" r="1" fill="#3f8ef0"/><circle cx="54.5" cy="307.23" r="1" fill="#3f8ef0"/><circle cx="60.5" cy="307.23" r="1" fill="#3f8ef0"/><circle cx="66.5" cy="307.23" r="1" fill="#3f8ef0"/><circle cx="72.5" cy="307.23" r="1" fill="#3f8ef0"/><circle cx="78.5" cy="307.23" r="1" fill="#3f8ef0"/><circle cx="84.5" cy="271.47" r="1" fill="#3f8ef0"/><circle cx="90.5" cy="289.35" r="1" fill="#3f8ef0"/><circle cx="96.5" cy="302.76" r="1" fill="#3f8ef0"/><circle cx="102.5" cy="307.23" r="1" fill="#3f8ef0"/><circle cx="108.5" cy="307.23" r="1" fill="#3f8ef0"/><circle cx="114.5" cy="307.23" r="1" fill="#3f8ef0"/><circle cx="120.5" cy="302.76" r="1" fill="#3f8ef0"/><circle cx="24.5" cy="302.76" r="0.95" fill="#f5c02c"/><circle cx="48.5" cy="302.76" r="0.95" fill="#f5c02c"/><circle cx="90.5" cy="307.23" r="0.95" fill="#f5c02c"/><circle cx="96.5" cy="307.23" r="0.95" fill="#f5c02c"/><circle cx="120.5" cy="298.29" r="0.95" fill="#f5c02c"/><circle cx="60.5" cy="307.23" r="0.95" fill="#45b85a"/><circle cx="123.1" cy="287.6" r="1.15" fill="#3f8ef0"/><circle cx="123.1" cy="295" r="1.15" fill="#f5c02c"/><circle cx="123.1" cy="302.6" r="1.15" fill="#45b85a"/><circle cx="301.5" cy="257.6" r="0.36" fill="#555"/><circle cx="301.5" cy="259" r="0.36" fill="#555"/><circle cx="301.5" cy="260.4" r="0.36" fill="#555"/><path d="M167.4 267V312.9M174.31 267V312.9M181.23 267V312.9M188.14 267V312.9M195.05 267V312.9M201.97 267V312.9M208.88 267V312.9M215.79 267V312.9M222.7 267V312.9M229.62 267V312.9M236.53 267V312.9M243.44 267V312.9M250.36 267V312.9M257.27 267V312.9M264.18 267V312.9M271.1 267V312.9" stroke="#f0f0f0" stroke-width="0.4" fill="none"/><path d="M166.4 313.1H275.1" stroke="#dcdcdc" stroke-width="0.4" stroke-dasharray="1 0.8"/><path d="M167.4 307.23 L174.31 307.23 L181.23 267 L188.14 267 L195.05 302.76 L201.97 307.23 L208.88 307.23 L215.79 307.23 L222.7 307.23 L229.62 302.76 L236.53 271.47 L243.44 280.41 L250.36 307.23 L257.27 307.23 L264.18 307.23 L271.1 302.76" fill="none" stroke="#3f8ef0" stroke-width="0.75" stroke-linejoin="round"/><circle cx="167.4" cy="307.23" r="1" fill="#3f8ef0"/><circle cx="174.31" cy="307.23" r="1" fill="#3f8ef0"/><circle cx="181.23" cy="267" r="1" fill="#3f8ef0"/><circle cx="188.14" cy="267" r="1" fill="#3f8ef0"/><circle cx="195.05" cy="302.76" r="1" fill="#3f8ef0"/><circle cx="201.97" cy="307.23" r="1" fill="#3f8ef0"/><circle cx="208.88" cy="307.23" r="1" fill="#3f8ef0"/><circle cx="215.79" cy="307.23" r="1" fill="#3f8ef0"/><circle cx="222.7" cy="307.23" r="1" fill="#3f8ef0"/><circle cx="229.62" cy="302.76" r="1" fill="#3f8ef0"/><circle cx="236.53" cy="271.47" r="1" fill="#3f8ef0"/><circle cx="243.44" cy="280.41" r="1" fill="#3f8ef0"/><circle cx="250.36" cy="307.23" r="1" fill="#3f8ef0"/><circle cx="257.27" cy="307.23" r="1" fill="#3f8ef0"/><circle cx="264.18" cy="307.23" r="1" fill="#3f8ef0"/><circle cx="271.1" cy="302.76" r="1" fill="#3f8ef0"/><circle cx="195.05" cy="302.76" r="0.95" fill="#f5c02c"/><circle cx="215.79" cy="307.23" r="0.95" fill="#f5c02c"/><circle cx="250.36" cy="307.23" r="0.95" fill="#f5c02c"/><circle cx="278.6" cy="291.2" r="1.15" fill="#3f8ef0"/><circle cx="278.6" cy="298.5" r="1.15" fill="#f5c02c"/><circle cx="76.9" cy="335.1" r="0.36" fill="#555"/><circle cx="76.9" cy="336.5" r="0.36" fill="#555"/><circle cx="76.9" cy="337.9" r="0.36" fill="#555"/><circle cx="150.4" cy="335.1" r="0.36" fill="#555"/><circle cx="150.4" cy="336.5" r="0.36" fill="#555"/><circle cx="150.4" cy="337.9" r="0.36" fill="#555"/><circle cx="228.4" cy="335.1" r="0.36" fill="#555"/><circle cx="228.4" cy="336.5" r="0.36" fill="#555"/><circle cx="228.4" cy="337.9" r="0.36" fill="#555"/><circle cx="301.6" cy="335.1" r="0.36" fill="#555"/><circle cx="301.6" cy="336.5" r="0.36" fill="#555"/><circle cx="301.6" cy="337.9" r="0.36" fill="#555"/><path d="M50.8 344.6V428" stroke="#d9d9d9" stroke-width="0.4"/><circle cx="61" cy="386.6" r="0.9" fill="#3f8ef0"/><path d="M124.3 344.6V428" stroke="#d9d9d9" stroke-width="0.4"/><circle cx="129.2" cy="386.6" r="0.9" fill="#3f8ef0"/><path d="M182.1 345.4l0.8 -1l0.8 1zM182.1 346.6l0.8 1l0.8 -1z" fill="#c8c8c8"/><path d="M209.4 345.4l0.8 -1l0.8 1zM209.4 346.6l0.8 1l0.8 -1z" fill="#c8c8c8"/><path d="M184.5 344V348" stroke="#e2e2e2" stroke-width="0.3"/><path d="M212.2 344V348" stroke="#e2e2e2" stroke-width="0.3"/><path d="M259.1 345.4l0.8 -1l0.8 1zM259.1 346.6l0.8 1l0.8 -1z" fill="#c8c8c8"/><path d="M286.9 345.4l0.8 -1l0.8 1zM286.9 346.6l0.8 1l0.8 -1z" fill="#c8c8c8"/><path d="M261.5 344V348" stroke="#e2e2e2" stroke-width="0.3"/><path d="M289.7 344V348" stroke="#e2e2e2" stroke-width="0.3"/></svg>
<!-- s_audit -->
<div class="t" style="left:363px;top:47px;font-size:7.2px;color:#4585c9;transform:translate(0.19px,0.22px) perspective(999px) translateZ(.01px) scaleX(1.0161)">Audit Overview</div>
<div class="b" style="left:357px;top:58.4px;width:62.2px;height:1px;background:#5b98d8"></div>
<div class="t" style="left:424px;top:47px;font-size:7.2px;color:#757575;transform:translate(0.95px,0.22px) perspective(999px) translateZ(.01px) scaleX(1.0221)">Operation Overview</div>
<div class="t" style="left:502px;top:47px;font-size:7.2px;color:#757575;transform:translate(0.25px,0.22px) perspective(999px) translateZ(.01px) scaleX(1.04)">Operations Detail</div>
<div class="t" style="left:372px;top:74px;font-size:9.2px;color:#2e2e2e;transform:translate(0.65px,0.72px) perspective(999px) translateZ(.01px) scaleX(0.9933)">Kubernetes Audit Center Overview V1.5</div>
<div class="b" style="left:687.5px;top:71.8px;width:22.9px;height:14.6px;background:#fff;border:0.5px solid #e9e9e9;border-radius:1.5px"></div>
<div class="t" style="left:693px;top:83px;font-size:2.4px;color:#666;transform:translate(0.64px,0.84px) perspective(999px) translateZ(.01px)">Time Shift</div>
<div class="b" style="left:716px;top:71.8px;width:51px;height:14.6px;background:#fff;border:0.5px solid #eceef2;border-radius:1.5px"></div>
<div class="t" style="left:724px;top:76px;font-size:6.4px;color:#2f7fd8;transform:translate(0.26px,0.44px) perspective(999px) translateZ(.01px)">Time Range</div>
<div class="t" style="left:776px;top:76px;font-size:7px;color:#2f7fd8;transform:translate(0.97px,0.65px) perspective(999px) translateZ(.01px) scaleX(1.0902)">Refresh</div>
<div class="t" style="left:823px;top:76px;font-size:7px;color:#2f7fd8;transform:translate(0.98px,0.65px) perspective(999px) translateZ(.01px) scaleX(1.072)">Reset Time</div>
<div class="t" style="left:448px;top:98px;font-size:6.2px;color:#303030;transform:translate(0.46px,0.77px) perspective(999px) translateZ(.01px) scaleX(1.053);-webkit-text-stroke:0.05px #303030">Namespace (Optional):</div>
<div class="b" style="left:517px;top:93.4px;width:46.6px;height:15px;background:#fff;border:0.5px solid #f6f6f6;border-radius:1px"></div>
<div class="t" style="left:525px;top:99px;font-size:5.8px;color:#a8a8a8;transform:translate(0.02px,0.43px) perspective(999px) translateZ(.01px) scaleX(1.019)">Please S</div>
<div class="t" style="left:566px;top:100px;font-size:6.2px;color:#303030;transform:translate(0.27px,0.57px) perspective(999px) translateZ(.01px) scaleX(1.0407);-webkit-text-stroke:0.05px #303030">RAM User ID (Optional):</div>
<div class="b" style="left:637.6px;top:95.6px;width:45.4px;height:14.8px;background:#fff;border:0.5px solid #f6f6f6;border-radius:1px"></div>
<div class="t" style="left:645px;top:101px;font-size:5.8px;color:#a8a8a8;transform:translate(0.5px,0.53px) perspective(999px) translateZ(.01px) scaleX(1.0413)">Please S</div>
<div class="t" style="left:685px;top:100px;font-size:6.2px;color:#303030;transform:translate(0.7px,0.57px) perspective(999px) translateZ(.01px) scaleX(1.0635);-webkit-text-stroke:0.05px #303030">Status Code (Optional):</div>
<div class="b" style="left:756px;top:95.6px;width:47px;height:14.8px;background:#fff;border:0.5px solid #f6f6f6;border-radius:1px"></div>
<div class="t" style="left:764px;top:101px;font-size:5.8px;color:#a8a8a8;transform:translate(0.11px,0.53px) perspective(999px) translateZ(.01px) scaleX(1.0235)">Please S</div>
<div class="b" style="left:804px;top:93.6px;width:59.4px;height:14.6px;background:#fff;border:0.5px solid #f3f3f3"></div>
<div class="t" style="left:807px;top:96px;font-size:8px;color:#2a6fcf;transform:translate(0.7px,0px) perspective(999px) translateZ(.01px) scaleX(1.2159)">Help</div>
<div class="b" style="left:805px;top:102.3px;width:58px;height:5.7px;background:#fff"></div>
<div class="b" style="left:806.2px;top:104.7px;width:36.8px;height:2.6px;background:#c2c2c2;border-radius:1.3px"></div>
<div class="b" style="left:423.3px;top:114.4px;width:88.5px;height:47.6px;background:#fff;border:0.5px solid #f0f0f0;border-radius:2px;box-shadow:0 0 2px rgba(0,0,0,0.09)"></div>
<div class="t" style="left:427px;top:119px;font-size:6.9px;color:#2b2b2b;font-weight:700;transform:translate(0.22px,0.82px) perspective(999px) translateZ(.01px) scaleX(1.0534)">Total Events</div>
<div class="t" style="left:474px;top:120px;font-size:5.4px;color:#b6b6b6;transform:translate(0.51px,0.29px) perspective(999px) translateZ(.01px) scaleX(1.2032)">1 Week(...</div>
<div class="t" style="left:430px;top:136px;font-size:16px;color:#3c3c3c;transform:translate(0.25px,0.8px) perspective(999px) translateZ(.01px) scaleX(1.0225)">14.051Mil</div>
<div class="b" style="left:513.8px;top:114.4px;width:88.2px;height:47.6px;background:#fff;border:0.5px solid #f0f0f0;border-radius:2px;box-shadow:0 0 2px rgba(0,0,0,0.09)"></div>
<div class="t" style="left:517px;top:119px;font-size:6.9px;color:#2b2b2b;font-weight:700;transform:translate(0.11px,0.82px) perspective(999px) translateZ(.01px) scaleX(1.0657)">Public Visits</div>
<div class="t" style="left:565px;top:120px;font-size:5.4px;color:#b6b6b6;transform:translate(0.33px,0.29px) perspective(999px) translateZ(.01px) scaleX(1.1439)">1 Week(...</div>
<div class="t" style="left:528px;top:134px;font-size:15.6px;color:#3c3c3c;transform:translate(0.79px,0.5px) perspective(999px) translateZ(.01px) scaleX(1.0411)">821</div>
<div class="t" style="left:563px;top:144px;font-size:7.1px;color:#e8424f;transform:translate(0.9px,0.5px) perspective(999px) translateZ(.01px) scaleX(1.0918)">0.12%</div>
<div class="t" style="left:520px;top:152px;font-size:6.2px;color:#444;transform:translate(0.97px,0.97px) perspective(999px) translateZ(.01px) scaleX(1.0282)">Week-over-Week Change</div>
<div class="b" style="left:604.2px;top:114.4px;width:88.6px;height:47.6px;background:#fff;border:0.5px solid #f0f0f0;border-radius:2px;box-shadow:0 0 2px rgba(0,0,0,0.09)"></div>
<div class="t" style="left:607px;top:119px;font-size:6.9px;color:#2b2b2b;font-weight:700;transform:translate(0.55px,0.82px) perspective(999px) translateZ(.01px) scaleX(1.082)">Unauthorized Visits</div>
<div class="t" style="left:681px;top:120px;font-size:5.4px;color:#b6b6b6;transform:translate(0.93px,0.29px) perspective(999px) translateZ(.01px) scaleX(1.6321)">1</div>
<div class="t" style="left:607px;top:134px;font-size:15.6px;color:#3c3c3c;transform:translate(0.3px,0.5px) perspective(999px) translateZ(.01px) scaleX(1.1438)">298</div>
<div class="t" style="left:640px;top:142px;font-size:6.5px;color:#484848;transform:translate(0.24px,0.58px) perspective(999px) translateZ(.01px) scaleX(1.1129)">Times</div>
<div class="t" style="left:665px;top:144px;font-size:7.1px;color:#e8424f;transform:translate(0.28px,0.5px) perspective(999px) translateZ(.01px) scaleX(1.1632)">0.34%</div>
<div class="t" style="left:611px;top:152px;font-size:6.2px;color:#444;transform:translate(0.97px,0.97px) perspective(999px) translateZ(.01px) scaleX(1.0282)">Week-over-Week Change</div>
<div class="b" style="left:695.3px;top:114.4px;width:88.9px;height:47.6px;background:#fff;border:0.5px solid #f0f0f0;border-radius:2px;box-shadow:0 0 2px rgba(0,0,0,0.09);overflow:hidden"><div class="t" style="left:-6px;top:20px;font-size:15.6px;color:#3c3c3c;transform:translate(0.4px,0.4px) perspective(999px) translateZ(.01px) scaleX(0.925)">21.147K</div><div class="t" style="left:77px;top:29px;font-size:7.1px;color:#46bd74;transform:translate(0px,0.6px) perspective(999px) translateZ(.01px)">-0.05%</div><svg width="90" height="47" viewBox="0 0 90 47"><path d="M83.6 20.8l2.4 2.6l1.8 -1.4l3 3.2" fill="none" stroke="#3cb562" stroke-width="1"/></svg></div>
<div class="t" style="left:699px;top:119px;font-size:6.9px;color:#2b2b2b;font-weight:700;transform:translate(0.3px,0.82px) perspective(999px) translateZ(.01px) scaleX(1.0647)">Create Events</div>
<div class="t" style="left:753px;top:120px;font-size:5.4px;color:#b6b6b6;transform:translate(0.34px,0.29px) perspective(999px) translateZ(.01px) scaleX(1.1096)">1 Wee...</div>
<div class="t" style="left:746px;top:142px;font-size:6.5px;color:#484848;transform:translate(0.83px,0.58px) perspective(999px) translateZ(.01px) scaleX(1.1363)">Times</div>
<div class="t" style="left:703px;top:152px;font-size:6.2px;color:#444;transform:translate(0.57px,0.97px) perspective(999px) translateZ(.01px) scaleX(1.031)">Week-over-Week Change</div>
<div class="b" style="left:786.6px;top:114.4px;width:88px;height:47.6px;background:#fff;border:0.5px solid #f0f0f0;border-radius:2px;box-shadow:0 0 2px rgba(0,0,0,0.09)"></div>
<div class="t" style="left:790px;top:119px;font-size:6.9px;color:#2b2b2b;font-weight:700;transform:translate(0.51px,0.82px) perspective(999px) translateZ(.01px) scaleX(1.0649)">Delete Events</div>
<div class="t" style="left:844px;top:120px;font-size:5.4px;color:#b6b6b6;transform:translate(0.06px,0.29px) perspective(999px) translateZ(.01px) scaleX(1.0625)">1 Wee...</div>
<div class="t" style="left:809px;top:134px;font-size:15.6px;color:#3c3c3c;transform:translate(0.89px,0.5px) perspective(999px) translateZ(.01px) scaleX(1.0208)">16</div>
<div class="t" style="left:831px;top:142px;font-size:6.5px;color:#484848;transform:translate(0.03px,0.58px) perspective(999px) translateZ(.01px) scaleX(1.148)">Times</div>
<div class="t" style="left:794px;top:152px;font-size:6.2px;color:#444;transform:translate(0.37px,0.97px) perspective(999px) translateZ(.01px) scaleX(1.0254)">Week-over-Week Change</div>
<div class="b" style="left:362.5px;top:165.8px;width:122.8px;height:115.1px;background:#fff;border:0.5px solid #f0f0f0;border-radius:2px;box-shadow:0 0 2px rgba(0,0,0,0.09)"></div>
<div class="b" style="left:489.5px;top:165.8px;width:136.8px;height:115.1px;background:#fff;border:0.5px solid #f0f0f0;border-radius:2px;box-shadow:0 0 2px rgba(0,0,0,0.09);overflow:hidden"><div class="t" style="left:121px;top:62px;font-size:5.9px;color:#5c5c5c;transform:translate(0.3px,0.97px) perspective(999px) translateZ(.01px) scaleX(1.08)">50.00%</div></div>
<div class="b" style="left:627.9px;top:166.4px;width:246.7px;height:114.5px;background:#fff;border:0.5px solid #f0f0f0;border-radius:2px;box-shadow:0 0 2px rgba(0,0,0,0.09)"></div>
<div class="t" style="left:366px;top:170px;font-size:6.9px;color:#2b2b2b;font-weight:700;transform:translate(0.7px,0.91px) perspective(999px) translateZ(.01px) scaleX(1.0686)">Operation Distribution by R...</div>
<div class="t" style="left:493px;top:171px;font-size:6.9px;color:#2b2b2b;font-weight:700;transform:translate(0.5px,0.11px) perspective(999px) translateZ(.01px) scaleX(1.0769)">Delete Event Distribution</div>
<div class="t" style="left:586px;top:171px;font-size:5.4px;color:#b6b6b6;transform:translate(0.41px,0.59px) perspective(999px) translateZ(.01px) scaleX(1.1905)">1 Week(...</div>
<div class="t" style="left:632px;top:171px;font-size:6.9px;color:#2b2b2b;font-weight:700;transform:translate(0.5px,0.91px) perspective(999px) translateZ(.01px) scaleX(1.0719)">Operating Trajectory</div>
<div class="t" style="left:710px;top:172px;font-size:5.4px;color:#b6b6b6;transform:translate(0.22px,0.39px) perspective(999px) translateZ(.01px) scaleX(1.1659)">1 Week(Relative)</div>
<div class="t" style="left:379px;top:188px;font-size:5.9px;color:#5c5c5c;transform:translate(0.62px,0.87px) perspective(999px) translateZ(.01px) scaleX(1.0703)">1.28%</div>
<div class="t" style="left:401px;top:267px;font-size:5.9px;color:#5c5c5c;transform:translate(0.2px,0.26px) perspective(999px) translateZ(.01px) scaleX(1.0859)">98.72%</div>
<div class="t" style="left:551px;top:223px;font-size:6px;color:#8a8a8a;transform:translate(0.25px,0.9px) perspective(999px) translateZ(.01px) scaleX(1.05)">Total</div>
<div class="t" style="left:554px;top:231px;font-size:6.6px;color:#505050;font-weight:700;transform:translate(0.05px,0.81px) perspective(999px) translateZ(.01px) scaleX(1.05)">16</div>
<div class="t" style="left:498px;top:193px;font-size:5.9px;color:#5c5c5c;transform:translate(0.37px,0.47px) perspective(999px) translateZ(.01px) scaleX(1.1229)">25.00%</div>
<div class="t" style="left:498px;top:263px;font-size:5.9px;color:#5c5c5c;transform:translate(0.37px,0.96px) perspective(999px) translateZ(.01px) scaleX(1.1229)">25.00%</div>
<div class="t" style="left:576px;top:216px;font-size:5.9px;color:#8a8a8a;transform:translate(0.82px,0.06px) perspective(999px) translateZ(.01px) scaleX(1.1188)">servicemonitors</div>
<div class="t" style="left:576px;top:228px;font-size:5.9px;color:#8a8a8a;transform:translate(0.67px,0.37px) perspective(999px) translateZ(.01px) scaleX(0.877)">pods</div>
<div class="t" style="left:576px;top:240px;font-size:5.9px;color:#8a8a8a;transform:translate(0.73px,0.87px) perspective(999px) translateZ(.01px) scaleX(1.1002)">deployments</div>
<div class="t" style="left:636px;top:185px;font-size:5.6px;color:#555;transform:translate(0.95px,0.06px) perspective(999px) translateZ(.01px)">2K</div>
<div class="t" style="left:632px;top:198px;font-size:5.6px;color:#555;transform:translate(0.28px,0.66px) perspective(999px) translateZ(.01px)">1.6K</div>
<div class="t" style="left:632px;top:211px;font-size:5.6px;color:#555;transform:translate(0.28px,0.86px) perspective(999px) translateZ(.01px)">1.2K</div>
<div class="t" style="left:634px;top:225px;font-size:5.6px;color:#555;transform:translate(0.46px,0.36px) perspective(999px) translateZ(.01px)">800</div>
<div class="t" style="left:634px;top:239px;font-size:5.6px;color:#555;transform:translate(0.46px,0.16px) perspective(999px) translateZ(.01px)">400</div>
<div class="t" style="left:640px;top:252px;font-size:5.6px;color:#555;transform:translate(0.69px,0.36px) perspective(999px) translateZ(.01px)">0</div>
<div class="t" style="left:851px;top:209px;font-size:5.9px;color:#8c8c8c;transform:translate(0.3px,0.66px) perspective(999px) translateZ(.01px) scaleX(1.1)">update</div>
<div class="t" style="left:851px;top:222px;font-size:5.9px;color:#8c8c8c;transform:translate(0.3px,0.06px) perspective(999px) translateZ(.01px) scaleX(1.1)">create</div>
<div class="t" style="left:851px;top:234px;font-size:5.9px;color:#8c8c8c;transform:translate(0.3px,0.37px) perspective(999px) translateZ(.01px) scaleX(1.1)">patch</div>
<div class="t" style="left:851px;top:247px;font-size:5.9px;color:#8c8c8c;transform:translate(0.3px,0.06px) perspective(999px) translateZ(.01px) scaleX(1.1)">delete</div>
<div class="t" style="left:647.6px;top:259.4px;font-size:5.4px;line-height:6px;color:#484848;-webkit-text-stroke:0.08px #484848;transform-origin:0 50%;transform:rotate(21deg) scaleX(1.04)">22-06-15 11</div>
<div class="t" style="left:659.68px;top:259.4px;font-size:5.4px;line-height:6px;color:#484848;-webkit-text-stroke:0.08px #484848;transform-origin:0 50%;transform:rotate(21deg) scaleX(1.04)">22-06-15 23</div>
<div class="t" style="left:671.76px;top:259.4px;font-size:5.4px;line-height:6px;color:#484848;-webkit-text-stroke:0.08px #484848;transform-origin:0 50%;transform:rotate(21deg) scaleX(1.04)">22-06-16 11</div>
<div class="t" style="left:683.84px;top:259.4px;font-size:5.4px;line-height:6px;color:#484848;-webkit-text-stroke:0.08px #484848;transform-origin:0 50%;transform:rotate(21deg) scaleX(1.04)">22-06-16 11</div>
<div class="t" style="left:695.92px;top:259.4px;font-size:5.4px;line-height:6px;color:#484848;-webkit-text-stroke:0.08px #484848;transform-origin:0 50%;transform:rotate(21deg) scaleX(1.04)">22-06-16 23</div>
<div class="t" style="left:708px;top:259.4px;font-size:5.4px;line-height:6px;color:#484848;-webkit-text-stroke:0.08px #484848;transform-origin:0 50%;transform:rotate(21deg) scaleX(1.04)">22-06-17 11</div>
<div class="t" style="left:720.08px;top:259.4px;font-size:5.4px;line-height:6px;color:#484848;-webkit-text-stroke:0.08px #484848;transform-origin:0 50%;transform:rotate(21deg) scaleX(1.04)">22-06-17 11</div>
<div class="t" style="left:732.16px;top:259.4px;font-size:5.4px;line-height:6px;color:#484848;-webkit-text-stroke:0.08px #484848;transform-origin:0 50%;transform:rotate(21deg) scaleX(1.04)">22-06-17 23</div>
<div class="t" style="left:744.24px;top:259.4px;font-size:5.4px;line-height:6px;color:#484848;-webkit-text-stroke:0.08px #484848;transform-origin:0 50%;transform:rotate(21deg) scaleX(1.04)">22-06-18 11</div>
<div class="t" style="left:756.32px;top:259.4px;font-size:5.4px;line-height:6px;color:#484848;-webkit-text-stroke:0.08px #484848;transform-origin:0 50%;transform:rotate(21deg) scaleX(1.04)">22-06-18 11</div>
<div class="t" style="left:768.4px;top:259.4px;font-size:5.4px;line-height:6px;color:#484848;-webkit-text-stroke:0.08px #484848;transform-origin:0 50%;transform:rotate(21deg) scaleX(1.04)">22-06-18 23</div>
<div class="t" style="left:780.48px;top:259.4px;font-size:5.4px;line-height:6px;color:#484848;-webkit-text-stroke:0.08px #484848;transform-origin:0 50%;transform:rotate(21deg) scaleX(1.04)">22-06-19 11</div>
<div class="t" style="left:792.56px;top:259.4px;font-size:5.4px;line-height:6px;color:#484848;-webkit-text-stroke:0.08px #484848;transform-origin:0 50%;transform:rotate(21deg) scaleX(1.04)">22-06-19 11</div>
<div class="t" style="left:804.64px;top:259.4px;font-size:5.4px;line-height:6px;color:#484848;-webkit-text-stroke:0.08px #484848;transform-origin:0 50%;transform:rotate(21deg) scaleX(1.04)">22-06-19 23</div>
<div class="t" style="left:816.72px;top:259.4px;font-size:5.4px;line-height:6px;color:#484848;-webkit-text-stroke:0.08px #484848;transform-origin:0 50%;transform:rotate(21deg) scaleX(1.04)">22-06-20 11</div>
<div class="t" style="left:828.8px;top:259.4px;font-size:5.4px;line-height:6px;color:#484848;-webkit-text-stroke:0.08px #484848;transform-origin:0 50%;transform:rotate(21deg) scaleX(1.04)">22-06-20 11</div>
<svg width="904" height="482" viewBox="0 0 904 482"><path d="M357 59.2H880" stroke="#e3e3e3" stroke-width="0.6"/><circle cx="366.6" cy="80" r="2.9" fill="none" stroke="#666" stroke-width="0.75"/><path d="M366.6 77.4v2.8h2.6" fill="none" stroke="#666" stroke-width="0.7"/><path d="M694 81.2a5 5 0 1 1 10 0" fill="none" stroke="#444" stroke-width="0.9"/><path d="M699.4 80.8l-2.6-3" stroke="#444" stroke-width="0.8"/><circle cx="699.2" cy="80.8" r="0.9" fill="#444"/><path d="M776 77.4a2.7 2.7 0 1 0 0.9 2.8" fill="none" stroke="#2f7fd8" stroke-width="0.7"/><path d="M775 76.2l1.6 1.2l-1.8 0.6z" fill="#2f7fd8"/><path d="M806.4 78.2h3.2l-1.6 2z" fill="#2f7fd8"/><circle cx="819.4" cy="79.3" r="2.7" fill="none" stroke="#2f7fd8" stroke-width="0.7"/><path d="M819.4 77.6v1.9h1.5" fill="none" stroke="#2f7fd8" stroke-width="0.6"/><path d="M557.2 99.9 l2.2 2.2 l2.2 -2.2" fill="none" stroke="#999" stroke-width="0.6"/><path d="M677.4 102.3 l2.2 2.2 l2.2 -2.2" fill="none" stroke="#999" stroke-width="0.6"/><path d="M795.8 102.3 l2.2 2.2 l2.2 -2.2" fill="none" stroke="#999" stroke-width="0.6"/><g transform="translate(391.1 124.2) scale(1.06 1)"><polygon points="0,-22.6 17.67,-14.09 22.03,5.03 9.81,20.36 -9.81,20.36 -22.03,5.03 -17.67,-14.09" fill="#2d8bd9" stroke="#2d8bd9" stroke-width="3" stroke-linejoin="round"/><circle cx="-0.3" cy="0.2" r="10.5" fill="none" stroke="#fff" stroke-width="2.8"/><path d="M-0.3 -2.8L-0.3 -16.4M2.05 -1.67L12.68 -10.15M2.62 0.87L15.88 3.89M1 2.9L6.9 15.16M-1.6 2.9L-7.5 15.16M-3.22 0.87L-16.48 3.89M-2.65 -1.67L-13.28 -10.15" stroke="#fff" stroke-width="2" stroke-linecap="round"/><circle cx="-0.3" cy="0.2" r="3.4" fill="#fff"/><circle cx="-0.3" cy="0.2" r="1.3" fill="#2d8bd9"/></g><circle cx="506.8" cy="120.5" r="0.62" fill="#444"/><circle cx="506.8" cy="122.4" r="0.62" fill="#444"/><circle cx="506.8" cy="124.3" r="0.62" fill="#444"/><circle cx="596.6" cy="120.5" r="0.62" fill="#444"/><circle cx="596.6" cy="122.4" r="0.62" fill="#444"/><circle cx="596.6" cy="124.3" r="0.62" fill="#444"/><path d="M571.6 140.3l2.3 -1.9l1.7 1.2l3 -2.6" fill="none" stroke="#e8424f" stroke-width="1.1" stroke-linejoin="round"/><path d="M577.3 136.5l2.6 -0.5l-0.5 2.6z" fill="#e8424f"/><circle cx="688.6" cy="120.5" r="0.62" fill="#444"/><circle cx="688.6" cy="122.4" r="0.62" fill="#444"/><circle cx="688.6" cy="124.3" r="0.62" fill="#444"/><path d="M673.4 140.3l2.3 -1.9l1.7 1.2l3 -2.6" fill="none" stroke="#e8424f" stroke-width="1.1" stroke-linejoin="round"/><path d="M679.1 136.5l2.6 -0.5l-0.5 2.6z" fill="#e8424f"/><circle cx="778.6" cy="120.5" r="0.62" fill="#444"/><circle cx="778.6" cy="122.4" r="0.62" fill="#444"/><circle cx="778.6" cy="124.3" r="0.62" fill="#444"/><circle cx="869.3" cy="120.5" r="0.62" fill="#444"/><circle cx="869.3" cy="122.4" r="0.62" fill="#444"/><circle cx="869.3" cy="124.3" r="0.62" fill="#444"/><circle cx="480" cy="171.6" r="0.62" fill="#444"/><circle cx="480" cy="173.5" r="0.62" fill="#444"/><circle cx="480" cy="175.4" r="0.62" fill="#444"/><circle cx="621" cy="171.8" r="0.62" fill="#444"/><circle cx="621" cy="173.7" r="0.62" fill="#444"/><circle cx="621" cy="175.6" r="0.62" fill="#444"/><circle cx="868.9" cy="172.6" r="0.62" fill="#444"/><circle cx="868.9" cy="174.5" r="0.62" fill="#444"/><circle cx="868.9" cy="176.4" r="0.62" fill="#444"/><path d="M401.75 205.88A24.3 24.3 0 1 1 399.8 205.8L399.8 216.8A13.3 13.3 0 1 0 400.87 216.84Z" fill="#4a9af3"/><path d="M399.8 205.8A24.3 24.3 0 0 1 401.75 205.88L400.87 216.84A13.3 13.3 0 0 0 399.8 216.8Z" fill="#7dd3c8"/><path d="M398.2 192.6V215" stroke="#9bd0ee" stroke-width="0.8" fill="none"/><path d="M400.5 254.6V267.6l1 1.8" stroke="#7fb6f3" stroke-width="0.8" fill="none"/><g fill="none" stroke-width="14.1"><path d="M558.3 203.05A30 27.85 0 0 1 558.3 258.75" stroke="#4a9bf5"/><path d="M558.3 258.75A30 27.85 0 0 1 528.3 230.9" stroke="#48cbc9"/><path d="M528.3 230.9A30 27.85 0 0 1 558.3 203.05" stroke="#54c46e"/></g><path d="M558.3 196v14.1M558.3 251.7v14.1M521.25 230.9h14.1" stroke="#fff" stroke-opacity="0.8" stroke-width="0.5"/><path d="M521.2 195.3l9.3 8.4" stroke="#a5dcae" stroke-width="0.7" fill="none"/><path d="M521.2 265.6l9.3 -7.8" stroke="#98e0dd" stroke-width="0.7" fill="none"/><path d="M595.4 230.7H610" stroke="#8fc1f5" stroke-width="0.7"/><circle cx="570.1" cy="218" r="2.2" fill="#3a80ee"/><circle cx="570.1" cy="230.3" r="2.2" fill="#3fbfc0"/><circle cx="570.1" cy="242.8" r="2.2" fill="#4dbb58"/><path d="M648 187.1H823.4" stroke="#ededed" stroke-width="0.4" stroke-dasharray="1.5 1"/><path d="M648 200.7H823.4" stroke="#ededed" stroke-width="0.4" stroke-dasharray="1.5 1"/><path d="M648 213.9H823.4" stroke="#ededed" stroke-width="0.4" stroke-dasharray="1.5 1"/><path d="M648 227.4H823.4" stroke="#ededed" stroke-width="0.4" stroke-dasharray="1.5 1"/><path d="M648 241.2H823.4" stroke="#ededed" stroke-width="0.4" stroke-dasharray="1.5 1"/><path d="M648 227.6L648.8 196L649.6 194.3H821.6L822.4 196L823.4 220.4" fill="none" stroke="#3f8ef0" stroke-width="0.9" stroke-linejoin="round"/><path d="M648 243.4L648.8 232L649.8 230.6H700L703 231.2L706 230.5H760L764 231L768 230.6H821.4L822.4 232L823.4 240.6" fill="none" stroke="#4dbd68" stroke-width="0.9" stroke-linejoin="round"/><path d="M648 254.4H823.4" stroke="#2f3873" stroke-width="0.9"/><circle cx="845" cy="211.6" r="2.1" fill="#2f86ee"/><circle cx="845" cy="224" r="2.1" fill="#3dba5e"/><circle cx="845" cy="236.3" r="2.1" fill="#f3c233"/><circle cx="845" cy="249" r="2.1" fill="#262c66"/></svg>
<div class="b" style="left:365px;top:218.4px;width:119.6px;height:29px;background:rgba(255,255,255,0.86);border-radius:1.5px;box-shadow:0 0.5px 3px rgba(0,0,0,0.16)"></div>
<div class="t" style="left:376px;top:226px;font-size:6px;color:#505050;transform:translate(0.09px,0.5px) perspective(999px) translateZ(.01px) scaleX(1.1216)">1845311666427154-1653450769:</div>
<div class="t" style="left:370px;top:235px;font-size:6px;color:#505050;transform:translate(0.14px,0.9px) perspective(999px) translateZ(.01px) scaleX(1.0984)">523(1.28%)</div>
<div class="t" style="left:576px;top:216px;font-size:5.9px;color:#2a5fa8;opacity:0.3;transform:translate(0.82px,0.06px) perspective(999px) translateZ(.01px) scaleX(1.1188);clip-path:inset(0 24.61px 0 0)">servicemonitors</div>
<div class="t" style="left:576px;top:228px;font-size:5.9px;color:#2a5fa8;opacity:0.3;transform:translate(0.67px,0.37px) perspective(999px) translateZ(.01px) scaleX(0.877);clip-path:inset(0 0px 0 0)">pods</div>
<div class="t" style="left:576px;top:240px;font-size:5.9px;color:#2a5fa8;opacity:0.3;transform:translate(0.73px,0.87px) perspective(999px) translateZ(.01px) scaleX(1.1002);clip-path:inset(0 16.45px 0 0)">deployments</div>
<svg width="904" height="482" viewBox="0 0 904 482"><circle cx="371.4" cy="228.8" r="0.95" fill="#3cc9a7"/></svg>
<!-- s_log -->
<div class="lg">
<div class="t" style="left:356px;top:325px;font-size:8px;color:#262626;transform:translate(0.29px,0.8px) perspective(999px) translateZ(.01px) scaleX(1.0775);-webkit-text-stroke:0.18px #262626">Log Center</div>
<div class="b" style="left:357px;top:339.8px;width:524.4px;height:12.4px;background:#fff;border-bottom:0.5px solid #f6f6f6"></div>
<div class="b" style="left:460.1px;top:339.8px;width:39.7px;height:12.8px;background:#fff;border-top:0.7px solid #7aa6e4;border-left:0.5px solid #efefef;border-right:0.5px solid #efefef"></div>
<div class="t" style="left:361px;top:344px;font-size:3.9px;color:#777;transform:translate(0.8px,0.47px) perspective(999px) translateZ(.01px) scaleX(1.0206)">Cluster Logs</div>
<div class="t" style="left:392px;top:344px;font-size:3.9px;color:#777;transform:translate(0.47px,0.47px) perspective(999px) translateZ(.01px) scaleX(1.0424)">Logs of Control Plane Components</div>
<div class="t" style="left:464px;top:344px;font-size:3.9px;color:#2b74d4;transform:translate(0.89px,0.47px) perspective(999px) translateZ(.01px) scaleX(1.0853)">Application Logs</div>
<div class="b" style="left:357px;top:352.6px;width:524.4px;height:31.4px;background:#fcfcfc"></div>
<div class="t" style="left:361px;top:360px;font-size:3.9px;transform:translate(0.68px,0.37px) perspective(999px) translateZ(.01px)">Basic Search:</div>
<div class="t" style="left:389px;top:360px;font-size:3.7px;color:#2b74d4;transform:translate(0.19px,0.6px) perspective(999px) translateZ(.01px) scaleX(0.9875)">Advanced Search</div>
<div class="t" style="left:830px;top:356px;font-size:3.5px;color:#7fb0ea;transform:translate(0.43px,0.23px) perspective(999px) translateZ(.01px)">Open in New Window</div>
<div class="t" style="left:872px;top:356px;font-size:3.6px;color:#2b74d4;font-weight:700;transform:translate(0.17px,0.26px) perspective(999px) translateZ(.01px) scaleX(0.9681)">Hide</div>
<div class="b" style="left:361.4px;top:369.8px;width:111.2px;height:9px;background:#fff;border:0.5px solid #eff0f2;border-radius:0.6px"></div>
<div class="t" style="left:365px;top:372px;font-size:3.6px;color:#444;transform:translate(0.67px,0.46px) perspective(999px) translateZ(.01px) scaleX(1.1066)">Logstore</div>
<div class="t" style="left:384px;top:372px;font-size:3.5px;color:#888;transform:translate(0.06px,0.53px) perspective(999px) translateZ(.01px) scaleX(1.051)">nginx-ingress</div>
<div class="b" style="left:474.1px;top:369.8px;width:34.7px;height:9.1px;background:#1b6bcb;border-radius:0.6px"></div>
<div class="t" style="left:478px;top:372px;font-size:3.7px;color:#e8f1fc;transform:translate(0.63px,0.6px) perspective(999px) translateZ(.01px) scaleX(1.0087)">Select Logstore</div>
<div class="b" style="left:357px;top:384px;width:524.4px;height:79.6px;background:#f6f6f7"></div>
<div class="t" style="left:365px;top:388px;font-size:5.2px;transform:translate(0.56px,0.92px) perspective(999px) translateZ(.01px) scaleX(0.9838)">nginx-ingress</div>
<div class="t" style="left:821px;top:388px;font-size:3.7px;color:#2b74d4;transform:translate(0.56px,0.9px) perspective(999px) translateZ(.01px) scaleX(1.1068)">Data Transformation</div>
<div class="b" style="left:357.4px;top:398.2px;width:419px;height:9px;background:#fff;border:0.5px solid #f0f0f0"></div>
<div class="b" style="left:777.4px;top:398.2px;width:38.8px;height:8.8px;background:#f3f5f9"></div>
<div class="b" style="left:360.6px;top:399.4px;width:9.4px;height:6.8px;background:#edf3fc"></div>
<div class="t" style="left:376px;top:401px;font-size:3.3px;color:#aaa;transform:translate(0.4px,0.75px) perspective(999px) translateZ(.01px)">1</div>
<div class="t" style="left:782px;top:400px;font-size:3.5px;color:#2b74d4;transform:translate(0.93px,0.62px) perspective(999px) translateZ(.01px)">1 Week(Relative)</div>
<div class="b" style="left:817.3px;top:397.8px;width:47.5px;height:9.4px;background:#1b6bcb;border-radius:0.6px"></div>
<div class="t" style="left:821px;top:400px;font-size:3.6px;color:#eaf2fc;font-weight:700;transform:translate(0.5px,0.66px) perspective(999px) translateZ(.01px) scaleX(1.0049)">Search &amp; Analyze</div>
<div class="t" style="left:869px;top:406px;font-size:1.5px;color:#777;transform:translate(0.25px,0.12px) perspective(999px) translateZ(.01px)">Time Shift</div>
<div class="b" style="left:357.4px;top:407.6px;width:522.8px;height:29.2px;background:#fff"></div>
<div class="b" style="left:357px;top:436.8px;width:523.6px;height:7.8px;background:#f8f8f8"></div>
<div class="t" style="left:362px;top:411px;font-size:2.9px;color:#666;transform:translate(0.77px,0.31px) perspective(999px) translateZ(.01px)">10</div>
<div class="t" style="left:364px;top:426px;font-size:2.9px;color:#666;transform:translate(0.39px,0.81px) perspective(999px) translateZ(.01px)">0</div>
<div class="t" style="left:370px;top:430px;font-size:2.9px;color:#777;transform:translate(0.3px,0.91px) perspective(999px) translateZ(.01px)">06-11</div>
<div class="t" style="left:417px;top:430px;font-size:2.9px;color:#777;transform:translate(0.49px,0.91px) perspective(999px) translateZ(.01px)">06-12</div>
<div class="t" style="left:464px;top:430px;font-size:2.9px;color:#777;transform:translate(0.79px,0.91px) perspective(999px) translateZ(.01px)">06-13</div>
<div class="t" style="left:512px;top:430px;font-size:2.9px;color:#777;transform:translate(0.09px,0.91px) perspective(999px) translateZ(.01px)">06-14</div>
<div class="t" style="left:559px;top:430px;font-size:2.9px;color:#777;transform:translate(0.39px,0.91px) perspective(999px) translateZ(.01px)">06-15</div>
<div class="t" style="left:606px;top:430px;font-size:2.9px;color:#777;transform:translate(0.69px,0.91px) perspective(999px) translateZ(.01px)">06-16</div>
<div class="t" style="left:653px;top:430px;font-size:2.9px;color:#777;transform:translate(0.99px,0.91px) perspective(999px) translateZ(.01px)">06-17</div>
<div class="t" style="left:701px;top:430px;font-size:2.9px;color:#777;transform:translate(0.29px,0.91px) perspective(999px) translateZ(.01px)">06-18</div>
<div class="t" style="left:748px;top:430px;font-size:2.9px;color:#777;transform:translate(0.59px,0.91px) perspective(999px) translateZ(.01px)">06-19</div>
<div class="t" style="left:795px;top:430px;font-size:2.9px;color:#777;transform:translate(0.89px,0.91px) perspective(999px) translateZ(.01px)">06-20</div>
<div class="t" style="left:843px;top:430px;font-size:2.9px;color:#777;transform:translate(0.19px,0.91px) perspective(999px) translateZ(.01px)">06-21</div>
<div class="t" style="left:573px;top:439px;font-size:3.3px;color:#999;transform:translate(0.02px,0.05px) perspective(999px) translateZ(.01px) scaleX(1.039);font-weight:400">Log Entries:<b style="color:#444;font-weight:400">635</b>  Search Status:<b style="color:#444;font-weight:400">The results are accurate.</b></div>
<div class="b" style="left:357px;top:444.6px;width:524.4px;height:7.6px;background:#f5f5f6"></div>
<div class="b" style="left:358.6px;top:443.4px;width:25.8px;height:9px;background:#fff;border:0.4px solid #ececec;border-bottom:none"></div>
<div class="b" style="left:385px;top:443.8px;width:20.4px;height:8.2px;background:#fbfbfb"></div>
<div class="b" style="left:406px;top:443.8px;width:27.4px;height:8.2px;background:#fbfbfb"></div>
<div class="t" style="left:362px;top:446px;font-size:3.8px;color:#2b74d4;transform:translate(0.67px,0.03px) perspective(999px) translateZ(.01px) scaleX(1.0578)">Raw Logs</div>
<div class="t" style="left:390px;top:446px;font-size:3.8px;color:#444;transform:translate(0.19px,0.03px) perspective(999px) translateZ(.01px) scaleX(1.0866)">Graph</div>
<div class="t" style="left:409px;top:446px;font-size:3.8px;color:#444;transform:translate(0.97px,0.03px) perspective(999px) translateZ(.01px) scaleX(1.0708)">LogReduce</div>
<div class="b" style="left:357px;top:452.2px;width:524.4px;height:11.2px;background:#fafafa"></div>
<div class="t" style="left:366px;top:455px;font-size:3.6px;font-weight:700;transform:translate(0.16px,0.56px) perspective(999px) translateZ(.01px) scaleX(0.9652)">Quick Analysis</div>
<div class="t" style="left:421px;top:455px;font-size:3.4px;color:#aaa;transform:translate(0.71px,0.49px) perspective(999px) translateZ(.01px) scaleX(1.1138)">Table</div>
<div class="b" style="left:433.2px;top:454px;width:26px;height:6.7px;background:#fff;border:0.5px solid #8fb8ec;border-radius:0.5px"></div>
<div class="t" style="left:439px;top:455px;font-size:3.4px;color:#2b74d4;transform:translate(0.27px,0.49px) perspective(999px) translateZ(.01px) scaleX(1.1741)">Raw Data</div>
<div class="t" style="left:462px;top:455px;font-size:3.4px;color:#2b74d4;transform:translate(0.21px,0.49px) perspective(999px) translateZ(.01px) scaleX(1.0549)">New Line</div>
<div class="b" style="left:477.8px;top:454.6px;width:9.6px;height:5.4px;background:#1f6fd6;border-radius:2.7px"></div>
<div class="t" style="left:490px;top:455px;font-size:3.4px;color:#2b74d4;transform:translate(0.92px,0.49px) perspective(999px) translateZ(.01px) scaleX(1.0552)">Time</div>
<div class="t" style="left:696px;top:455px;font-size:3.3px;color:#444;transform:translate(0.18px,0.75px) perspective(999px) translateZ(.01px) scaleX(1.0437)">Items per page:</div>
<div class="b" style="left:723.6px;top:452.6px;width:18.8px;height:8.6px;background:#fefefe;border:0.4px solid #f8f8f8"></div>
<div class="t" style="left:726px;top:455px;font-size:3.3px;color:#444;transform:translate(0.8px,0.75px) perspective(999px) translateZ(.01px)">20</div>
<div class="t" style="left:755px;top:455px;font-size:3.3px;color:#ccc;transform:translate(0.04px,0.75px) perspective(999px) translateZ(.01px)">&lt;</div>
<div class="b" style="left:762.5px;top:452.2px;width:8.7px;height:9.2px;background:#1b6bcb;border-radius:0.5px"></div>
<div class="t" style="left:765px;top:454px;font-size:3.4px;color:#fff;transform:translate(0.85px,0.89px) perspective(999px) translateZ(.01px)">1</div>
<div class="b" style="left:772.6px;top:452.2px;width:8.8px;height:9.2px;background:#fff;border:0.4px solid #f9f9f9"></div>
<div class="t" style="left:776px;top:454px;font-size:3.4px;color:#444;transform:translate(0.05px,0.89px) perspective(999px) translateZ(.01px)">2</div>
<div class="b" style="left:782.8px;top:452.2px;width:8.8px;height:9.2px;background:#fff;border:0.4px solid #f9f9f9"></div>
<div class="t" style="left:786px;top:454px;font-size:3.4px;color:#444;transform:translate(0.25px,0.89px) perspective(999px) translateZ(.01px)">3</div>
<div class="b" style="left:793.1px;top:452.2px;width:8.8px;height:9.2px;background:#fff;border:0.4px solid #f9f9f9"></div>
<div class="t" style="left:796px;top:454px;font-size:3.4px;color:#444;transform:translate(0.55px,0.89px) perspective(999px) translateZ(.01px)">4</div>
<div class="b" style="left:811.6px;top:452.2px;width:8.8px;height:9.2px;background:#fff;border:0.4px solid #f9f9f9"></div>
<div class="t" style="left:814px;top:454px;font-size:3.4px;color:#444;transform:translate(0.11px,0.89px) perspective(999px) translateZ(.01px)">32</div>
<div class="t" style="left:805px;top:454px;font-size:3.4px;color:#888;transform:translate(0px,0.39px) perspective(999px) translateZ(.01px)">···</div>
<div class="t" style="left:825px;top:455px;font-size:3.3px;color:#666;transform:translate(0.94px,0.75px) perspective(999px) translateZ(.01px)">&gt;</div>
<div class="t" style="left:831px;top:455px;font-size:3.3px;color:#444;transform:translate(0.93px,0.75px) perspective(999px) translateZ(.01px)">Go to:</div>
<div class="b" style="left:842px;top:452.6px;width:9.6px;height:8.6px;background:#fefefe;border:0.4px solid #f8f8f8"></div>
<div class="t" style="left:852px;top:455px;font-size:3.3px;color:#444;transform:translate(0.58px,0.75px) perspective(999px) translateZ(.01px) scaleX(1.1934)">Page</div>
<div class="t" style="left:866px;top:455px;font-size:3.3px;transform:translate(0.78px,0.75px) perspective(999px) translateZ(.01px) scaleX(1.1006)">View</div>
</div>
<svg width="904" height="482" viewBox="0 0 904 482"><rect x="865.4" y="356.6" width="2.6" height="2.6" fill="none" stroke="#7fb0ea" stroke-width="0.4"/><path d="M467.4 373.6l1.5 1.4l1.5 -1.4" fill="none" stroke="#999" stroke-width="0.45"/><path d="M359.6 389.6l2.2 -1l2.2 1l-2.2 1zM359.6 390.8l2.2 1l2.2 -1M359.6 392l2.2 1l2.2 -1" fill="#444" stroke="#444" stroke-width="0.5"/><circle cx="398.8" cy="389.6" r="1.2" fill="none" stroke="#777" stroke-width="0.4"/><rect x="859.8" y="389.2" width="2.7" height="2.7" fill="none" stroke="#2b74d4" stroke-width="0.4"/><circle cx="873.4" cy="390.8" r="1.5" fill="none" stroke="#777" stroke-width="0.7"/><path d="M363.6 402l1.5 1.4l1.5 -1.4" fill="none" stroke="#3f86e0" stroke-width="0.6"/><circle cx="766.6" cy="402.4" r="1.4" fill="#fff" stroke="#555" stroke-width="0.7"/><circle cx="772.4" cy="402.4" r="1.7" fill="#555"/><path d="M810.6 402h1.8l-0.9 1.1z" fill="#2b74d4"/><path d="M852.8 398.6V406.4" stroke="#4b8ad8" stroke-width="0.4"/><circle cx="857" cy="402.4" r="1.3" fill="none" stroke="#dfeaf9" stroke-width="0.45"/><path d="M860.2 401.9h1.8l-0.9 1.1z" fill="#dfeaf9"/><path d="M869.6 404a3 3 0 1 1 6 0" fill="none" stroke="#555" stroke-width="0.6"/><path d="M872.6 403.8l-1.3-1.8" stroke="#555" stroke-width="0.5"/><path d="M368 427.6H866" stroke="#d8e6cf" stroke-width="0.5"/><path d="M370.05 427.5v-8h11.47v8zM393.6 427.5v-4.6h11.47v4.6zM405.37 427.5v-7.7h11.47v7.7zM417.15 427.5v-1.5h11.47v1.5zM428.92 427.5v-5.9h11.47v5.9zM440.7 427.5v-11.5h11.47v11.5zM464.25 427.5v-9.3h11.47v9.3zM476.02 427.5v-3.7h11.47v3.7zM487.8 427.5v-4.3h11.47v4.3zM499.57 427.5v-4.3h11.47v4.3zM511.35 427.5v-5h11.47v5zM523.12 427.5v-4.6h11.47v4.6zM534.9 427.5v-3.1h11.47v3.1zM546.67 427.5v-2.5h11.47v2.5zM558.45 427.5v-2.2h11.47v2.2zM570.23 427.5v-1.5h11.47v1.5zM582 427.5v-4.3h11.47v4.3zM593.77 427.5v-9.3h11.47v9.3zM605.55 427.5v-3.1h11.47v3.1zM617.32 427.5v-1.6h11.47v1.6zM629.1 427.5v-3h11.47v3zM640.87 427.5v-6.8h11.47v6.8zM652.65 427.5v-4.6h11.47v4.6zM664.42 427.5v-5.9h11.47v5.9zM687.98 427.5v-13.9h11.47v13.9zM699.75 427.5v-1.5h11.47v1.5zM711.52 427.5v-5h11.47v5zM723.3 427.5v-1h11.47v1zM735.07 427.5v-1.2h11.47v1.2zM746.85 427.5v-2.8h11.47v2.8zM758.62 427.5v-6.8h11.47v6.8zM770.4 427.5v-6.8h11.47v6.8zM782.17 427.5v-2.8h11.47v2.8zM793.95 427.5v-2.5h11.47v2.5zM805.73 427.5v-4.3h11.47v4.3zM817.5 427.5v-1.5h11.47v1.5zM841.05 427.5v-11.5h11.47v11.5zM852.82 427.5v-3.4h11.47v3.4z" fill="#8bc462"/><circle cx="363.2" cy="457.3" r="1.1" fill="none" stroke="#777" stroke-width="0.4"/><circle cx="409.1" cy="456.1" r="0.35" fill="#777"/><circle cx="409.1" cy="457.3" r="0.35" fill="#777"/><circle cx="409.1" cy="458.5" r="0.35" fill="#777"/><rect x="417.8" y="456" width="2.8" height="2.6" fill="none" stroke="#aaa" stroke-width="0.4"/><rect x="435.2" y="455.8" width="3.2" height="3" fill="#2b74d4"/><circle cx="484.6" cy="457.3" r="2.1" fill="#fff"/><path d="M500.4 456.8l0.9 -1l0.9 1zM500.4 457.8l0.9 1l0.9 -1z" fill="#2b74d4"/><path d="M506.8 455.6v2.6m-1 -1l1 1l1 -1M505.4 459h2.8" fill="none" stroke="#999" stroke-width="0.4"/><circle cx="514.3" cy="457.2" r="1.2" fill="none" stroke="#999" stroke-width="0.45"/><path d="M736.2 456.1l1.3 1.2l1.3 -1.2" fill="none" stroke="#999" stroke-width="0.4"/></svg>
</div>
</body>
</html>
